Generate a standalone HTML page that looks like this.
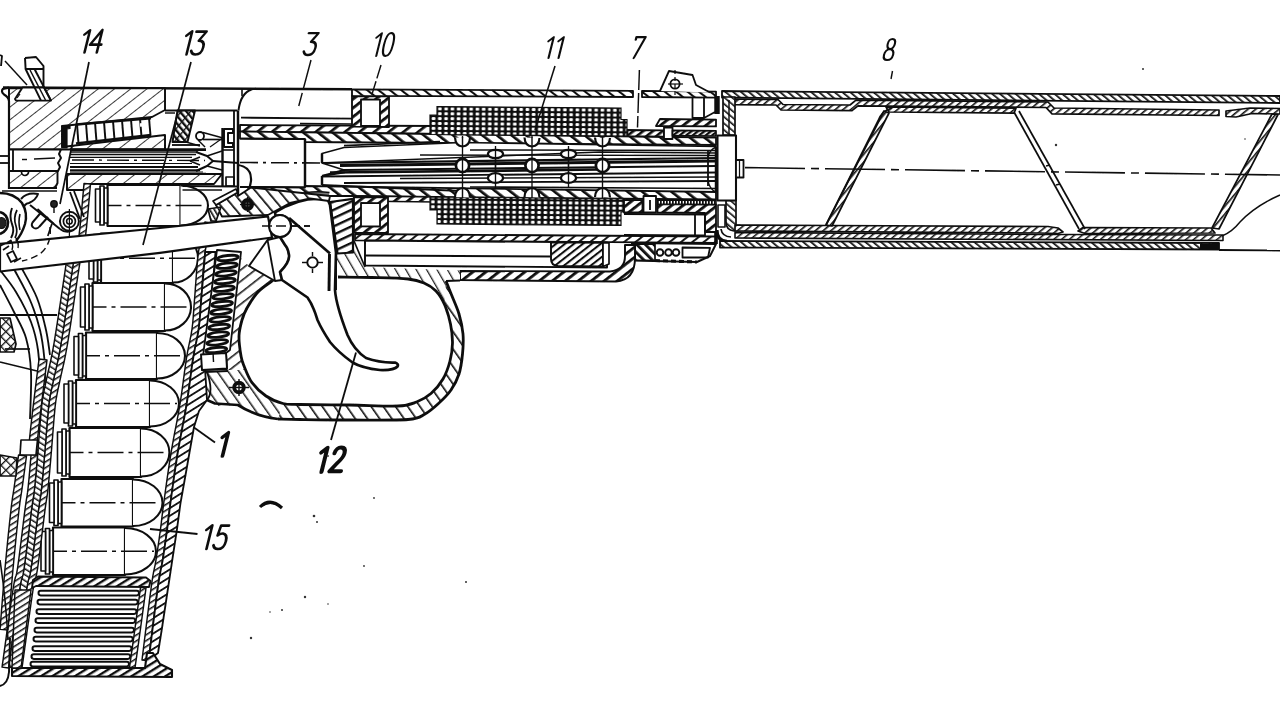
<!DOCTYPE html>
<html><head><meta charset="utf-8"><title>Pistol cutaway diagram</title>
<style>html,body{margin:0;padding:0;background:#fff;overflow:hidden}svg{display:block}</style></head>
<body>
<svg width="1280" height="711" viewBox="0 0 1280 711" font-family="Liberation Sans, sans-serif">
<rect width="1280" height="711" fill="#fff"/>
<defs>
<pattern id="h0" patternUnits="userSpaceOnUse" width="5" height="5" patternTransform="rotate(-50)"><rect x="0" y="0" width="1.73" height="5" fill="#111"/></pattern>
<pattern id="h1" patternUnits="userSpaceOnUse" width="5" height="5" patternTransform="rotate(50)"><rect x="0" y="0" width="1.62" height="5" fill="#111"/></pattern>
<pattern id="h2" patternUnits="userSpaceOnUse" width="5" height="5" patternTransform="rotate(-50)"><rect x="0" y="0" width="1.62" height="5" fill="#111"/></pattern>
<pattern id="h3" patternUnits="userSpaceOnUse" width="5" height="5" patternTransform="rotate(50)"><rect x="0" y="0" width="1.51" height="5" fill="#111"/></pattern>
<pattern id="h4" patternUnits="userSpaceOnUse" width="2" height="2" patternTransform="rotate(0)"><rect x="0" y="0" width="2.16" height="2" fill="#111"/></pattern>
<pattern id="h5" patternUnits="userSpaceOnUse" width="5" height="5" patternTransform="rotate(40)"><rect x="0" y="0" width="1.62" height="5" fill="#111"/></pattern>
<pattern id="h6" patternUnits="userSpaceOnUse" width="10" height="10" patternTransform="rotate(52)"><rect x="0" y="0" width="0.97" height="10" fill="#333"/></pattern>
<pattern id="h7" patternUnits="userSpaceOnUse" width="5" height="5" patternTransform="rotate(-40)"><rect x="0" y="0" width="2.38" height="5" fill="#111"/></pattern>
<pattern id="h8" patternUnits="userSpaceOnUse" width="7" height="7" patternTransform="rotate(40)"><rect x="0" y="0" width="1.3" height="7" fill="#111"/></pattern>
<pattern id="h9" patternUnits="userSpaceOnUse" width="9" height="9" patternTransform="rotate(52)"><rect x="0" y="0" width="2.7" height="9" fill="#111"/></pattern>
<pattern id="h10" patternUnits="userSpaceOnUse" width="9" height="9" patternTransform="rotate(-52)"><rect x="0" y="0" width="2.7" height="9" fill="#111"/></pattern>
<pattern id="h11" patternUnits="userSpaceOnUse" width="8" height="8" patternTransform="rotate(52)"><rect x="0" y="0" width="2.81" height="8" fill="#111"/></pattern>
<pattern id="grid" patternUnits="userSpaceOnUse" width="6.25" height="4.9" patternTransform="rotate(0.45)"><rect width="6.25" height="4.9" fill="#111"/><rect x="1.4" y="1.1" width="3.7" height="2.8" rx="1" fill="#fff"/></pattern>
<pattern id="h12" patternUnits="userSpaceOnUse" width="7" height="7" patternTransform="rotate(52)"><rect x="0" y="0" width="2.81" height="7" fill="#111"/></pattern>
<pattern id="h13" patternUnits="userSpaceOnUse" width="7" height="7" patternTransform="rotate(-52)"><rect x="0" y="0" width="2.05" height="7" fill="#111"/></pattern>
<pattern id="h14" patternUnits="userSpaceOnUse" width="7" height="7" patternTransform="rotate(52)"><rect x="0" y="0" width="1.94" height="7" fill="#111"/></pattern>
<pattern id="h15" patternUnits="userSpaceOnUse" width="6" height="6" patternTransform="rotate(52)"><rect x="0" y="0" width="2.59" height="6" fill="#111"/></pattern>
<pattern id="h16" patternUnits="userSpaceOnUse" width="4" height="4" patternTransform="rotate(52)"><rect x="0" y="0" width="2.38" height="4" fill="#111"/></pattern>
<pattern id="h17" patternUnits="userSpaceOnUse" width="3" height="3" patternTransform="rotate(0)"><rect x="0" y="0" width="1.73" height="3" fill="#111"/></pattern>
<pattern id="h18" patternUnits="userSpaceOnUse" width="6" height="6" patternTransform="rotate(-45)"><rect x="0" y="0" width="2.81" height="6" fill="#111"/></pattern>
<pattern id="h19" patternUnits="userSpaceOnUse" width="5.5" height="5.5" patternTransform="rotate(52)"><rect x="0" y="0" width="2.05" height="5.5" fill="#111"/></pattern>
<pattern id="h20" patternUnits="userSpaceOnUse" width="9" height="9" patternTransform="rotate(-30)"><rect x="0" y="0" width="1.3" height="9" fill="#222"/></pattern>
<pattern id="h21" patternUnits="userSpaceOnUse" width="10" height="10" patternTransform="rotate(-35)"><rect x="0" y="0" width="1.62" height="10" fill="#111"/></pattern>
<pattern id="h22" patternUnits="userSpaceOnUse" width="9" height="9" patternTransform="rotate(-35)"><rect x="0" y="0" width="1.51" height="9" fill="#222"/></pattern>
<pattern id="h23" patternUnits="userSpaceOnUse" width="9" height="9" patternTransform="rotate(52)"><rect x="0" y="0" width="1.62" height="9" fill="#222"/></pattern>
<pattern id="h24" patternUnits="userSpaceOnUse" width="7.5" height="7.5" patternTransform="rotate(65)"><rect x="0" y="0" width="2.38" height="7.5" fill="#111"/></pattern>
<pattern id="h25" patternUnits="userSpaceOnUse" width="5" height="5" patternTransform="rotate(58)"><rect x="0" y="0" width="1.51" height="5" fill="#111"/></pattern>
<pattern id="h26" patternUnits="userSpaceOnUse" width="5" height="5" patternTransform="rotate(-58)"><rect x="0" y="0" width="1.51" height="5" fill="#111"/></pattern>
<pattern id="h27" patternUnits="userSpaceOnUse" width="6.5" height="6.5" patternTransform="rotate(58)"><rect x="0" y="0" width="1.84" height="6.5" fill="#111"/></pattern>
<pattern id="h28" patternUnits="userSpaceOnUse" width="6" height="6" patternTransform="rotate(58)"><rect x="0" y="0" width="2.38" height="6" fill="#111"/></pattern>
<pattern id="h29" patternUnits="userSpaceOnUse" width="7" height="7" patternTransform="rotate(45)"><rect x="0" y="0" width="1.3" height="7" fill="#111"/></pattern>
<pattern id="h30" patternUnits="userSpaceOnUse" width="7" height="7" patternTransform="rotate(-45)"><rect x="0" y="0" width="1.3" height="7" fill="#111"/></pattern>
<pattern id="h31" patternUnits="userSpaceOnUse" width="9" height="9" patternTransform="rotate(-40)"><rect x="0" y="0" width="1.73" height="9" fill="#111"/></pattern>
<pattern id="h32" patternUnits="userSpaceOnUse" width="4" height="4" patternTransform="rotate(-30)"><rect x="0" y="0" width="1.62" height="4" fill="#111"/></pattern>
<filter id="soft" x="0" y="0" width="1280" height="711" filterUnits="userSpaceOnUse"><feGaussianBlur stdDeviation="0.45"/></filter>
</defs>
<g filter="url(#soft)">
<polygon points="722,91 1280,96 1280,103 722,97.5" fill="#fff" stroke="none"/>
<polygon points="722,91 1280,96 1280,103 722,97.5" fill="url(#h0)" stroke="#111" stroke-width="1.83" stroke-linejoin="round"/>
<polygon points="731,99 778,99.5 783,104.5 850,105 856,100.2 1048,102 1054,108 1219,110 1219,115.5 1052,113.8 1046,107.5 858,105.8 852,110.6 781,110 776,105 731,104.6" fill="#fff" stroke="none"/>
<polygon points="731,99 778,99.5 783,104.5 850,105 856,100.2 1048,102 1054,108 1219,110 1219,115.5 1052,113.8 1046,107.5 858,105.8 852,110.6 781,110 776,105 731,104.6" fill="url(#h1)" stroke="#111" stroke-width="1.71" stroke-linejoin="round"/>
<polygon points="886,107 1016,108.2 1014,113.2 889,112" fill="#fff" stroke="none"/>
<polygon points="886,107 1016,108.2 1014,113.2 889,112" fill="url(#h1)" stroke="#111" stroke-width="1.71" stroke-linejoin="round"/>
<polygon points="1226,111 1250,108 1280,108.5 1280,114 1252,113.5 1236,117 1226,116.5" fill="#fff" stroke="none"/>
<polygon points="1226,111 1250,108 1280,108.5 1280,114 1252,113.5 1236,117 1226,116.5" fill="url(#h1)" stroke="#111" stroke-width="1.71" stroke-linejoin="round"/>
<polygon points="723,97 735,97 735,135 729,135 723,135" fill="#fff" stroke="none"/>
<polygon points="723,97 735,97 735,135 729,135 723,135" fill="url(#h2)" stroke="#111" stroke-width="1.71" stroke-linejoin="round"/>
<line x1="729" y1="100" x2="729" y2="135" stroke="#111" stroke-width="1.46" stroke-linecap="butt"/>
<path d="M726,200.5 L736,200.5 L736,225 L740,225.3 L740,231 L734,231 Q726,230 726,222 Z" fill="#fff" stroke="none"/>
<path d="M726,200.5 L736,200.5 L736,225 L740,225.3 L740,231 L734,231 Q726,230 726,222 Z" fill="url(#h2)" stroke="#111" stroke-width="1.71" stroke-linejoin="round"/>
<polygon points="718,205 725,205 725,227 718,227" fill="#fff" stroke="#111" stroke-width="1.59" stroke-linejoin="round"/>
<path d="M717,230 Q717,241 727,241.3" fill="none" stroke="#111" stroke-width="3.17" stroke-linejoin="round" stroke-linecap="butt"/>
<path d="M721,229 Q722,236.5 731,237" fill="none" stroke="#111" stroke-width="1.71" stroke-linejoin="round" stroke-linecap="butt"/>
<polygon points="735,225 826,225.5 1048,226.5 1058,228 1063,232 1058,233.5 1040,233 735,231" fill="#fff" stroke="none"/>
<polygon points="735,225 826,225.5 1048,226.5 1058,228 1063,232 1058,233.5 1040,233 735,231" fill="url(#h1)" stroke="#111" stroke-width="1.71" stroke-linejoin="round"/>
<polygon points="1083,227.5 1211,228 1215,233 1085,233.5 1078,231" fill="#fff" stroke="none"/>
<polygon points="1083,227.5 1211,228 1215,233 1085,233.5 1078,231" fill="url(#h1)" stroke="#111" stroke-width="1.71" stroke-linejoin="round"/>
<polygon points="735,232.5 1040,234.5 1060,234.5 1223,235 1223,240.5 735,238" fill="#fff" stroke="none"/>
<polygon points="735,232.5 1040,234.5 1060,234.5 1223,235 1223,240.5 735,238" fill="url(#h3)" stroke="#111" stroke-width="1.59" stroke-linejoin="round"/>
<polygon points="720,241 1219,243 1219,249.5 720,247.5" fill="#fff" stroke="none"/>
<polygon points="720,241 1219,243 1219,249.5 720,247.5" fill="url(#h0)" stroke="#111" stroke-width="1.83" stroke-linejoin="round"/>
<line x1="1219" y1="250" x2="1280" y2="250.5" stroke="#111" stroke-width="1.83" stroke-linecap="butt"/>
<path d="M1222,236 Q1232,232 1240,222 Q1255,206 1280,195" fill="none" stroke="#111" stroke-width="1.46" stroke-linejoin="round" stroke-linecap="butt"/>
<polygon points="1200,244 1219,244 1219,249 1200,249" fill="#fff" stroke="none"/>
<polygon points="1200,244 1219,244 1219,249 1200,249" fill="url(#h4)" stroke="#111" stroke-width="0.0" stroke-linejoin="round"/>
<polygon points="884,111 889,113 832,226 826,225" fill="#fff" stroke="none"/>
<polygon points="884,111 889,113 832,226 826,225" fill="url(#h5)" stroke="#111" stroke-width="1.71" stroke-linejoin="round"/>
<path d="M826,225 L878,121 Q882,110 892,108" fill="none" stroke="#111" stroke-width="1.71" stroke-linejoin="round" stroke-linecap="butt"/>
<line x1="1014" y1="112" x2="1079" y2="229" stroke="#111" stroke-width="1.71" stroke-linecap="butt"/>
<line x1="1019" y1="111" x2="1085" y2="229" stroke="#111" stroke-width="1.71" stroke-linecap="butt"/>
<line x1="1046" y1="166" x2="1050" y2="165" stroke="#111" stroke-width="1.46" stroke-linecap="butt"/>
<line x1="1056" y1="185" x2="1060" y2="184" stroke="#111" stroke-width="1.46" stroke-linecap="butt"/>
<polygon points="1272,114 1278,114.5 1219,229 1212,228" fill="#fff" stroke="none"/>
<polygon points="1272,114 1278,114.5 1219,229 1212,228" fill="url(#h5)" stroke="#111" stroke-width="1.71" stroke-linejoin="round"/>
<line x1="745" y1="167.6" x2="1280" y2="175" stroke="#111" stroke-width="1.59" stroke-linecap="butt" stroke-dasharray="60 6 8 6"/>
<line x1="3" y1="87.5" x2="352" y2="89.3" stroke="#111" stroke-width="2.44" stroke-linecap="butt"/>
<polygon points="9,88 165,88.3 165,110 152,117 62,126 62,147 165,135 165,149.4 9,149.4" fill="#fff" stroke="none"/>
<polygon points="9,88 165,88.3 165,110 152,117 62,126 62,147 165,135 165,149.4 9,149.4" fill="url(#h6)" stroke="#111" stroke-width="1.95" stroke-linejoin="round"/>
<polygon points="22.5,87.5 15,99 16,100.6 51,100.6 44,87.5" fill="#fff" stroke="#111" stroke-width="1.95" stroke-linejoin="round"/>
<line x1="17" y1="98" x2="20" y2="94" stroke="#111" stroke-width="1.22" stroke-linecap="butt"/>
<polyline points="25,58 36,57 43.5,66 43.5,87.5" fill="none" stroke="#111" stroke-width="1.95" stroke-linejoin="round"/>
<polyline points="25,58 25.6,69 41,100.6" fill="none" stroke="#111" stroke-width="1.95" stroke-linejoin="round"/>
<line x1="25.6" y1="69" x2="43.5" y2="69" stroke="#111" stroke-width="1.95" stroke-linecap="butt"/>
<line x1="34.5" y1="69" x2="51" y2="100.6" stroke="#111" stroke-width="1.95" stroke-linecap="butt"/>
<line x1="30" y1="70" x2="45.5" y2="100" stroke="#111" stroke-width="1.46" stroke-linecap="butt"/>
<line x1="5" y1="61" x2="27" y2="85" stroke="#111" stroke-width="1.46" stroke-linecap="butt"/>
<path d="M0,55 L2,56 L1,66" fill="none" stroke="#111" stroke-width="1.83" stroke-linejoin="round" stroke-linecap="butt"/>
<path d="M9,189 L9,101 Q8.5,97 4,94.5 Q0.5,91.5 3,88.8 L9,87.6" fill="none" stroke="#111" stroke-width="2.2" stroke-linejoin="round" stroke-linecap="butt"/>
<polygon points="62,126 70,125.3 70,128.5 67,128.8 67,148 62,148" fill="#111" stroke="#111" stroke-width="1.22" stroke-linejoin="round"/>
<line x1="77.0" y1="124.0" x2="78.5" y2="144.0" stroke="#111" stroke-width="1.95" stroke-linecap="butt"/>
<line x1="86.0" y1="123.25" x2="87.5" y2="142.9375" stroke="#111" stroke-width="1.95" stroke-linecap="butt"/>
<line x1="95.0" y1="122.5" x2="96.5" y2="141.875" stroke="#111" stroke-width="1.95" stroke-linecap="butt"/>
<line x1="104.0" y1="121.75" x2="105.5" y2="140.8125" stroke="#111" stroke-width="1.95" stroke-linecap="butt"/>
<line x1="113.0" y1="121.0" x2="114.5" y2="139.75" stroke="#111" stroke-width="1.95" stroke-linecap="butt"/>
<line x1="122.0" y1="120.25" x2="123.5" y2="138.6875" stroke="#111" stroke-width="1.95" stroke-linecap="butt"/>
<line x1="131.0" y1="119.5" x2="132.5" y2="137.625" stroke="#111" stroke-width="1.95" stroke-linecap="butt"/>
<line x1="140.0" y1="118.75" x2="141.5" y2="136.5625" stroke="#111" stroke-width="1.95" stroke-linecap="butt"/>
<line x1="149.0" y1="118.0" x2="150.5" y2="135.5" stroke="#111" stroke-width="1.95" stroke-linecap="butt"/>
<line x1="76" y1="124.5" x2="151" y2="118.3" stroke="#111" stroke-width="2.44" stroke-linecap="butt"/>
<line x1="76" y1="143.5" x2="151" y2="135" stroke="#111" stroke-width="2.44" stroke-linecap="butt"/>
<line x1="140" y1="125" x2="148" y2="124.5" stroke="#fff" stroke-width="3.66" stroke-linecap="butt"/>
<line x1="165" y1="110.5" x2="237.5" y2="110.5" stroke="#111" stroke-width="1.95" stroke-linecap="butt"/>
<line x1="165" y1="113" x2="175" y2="113" stroke="#111" stroke-width="1.46" stroke-linecap="butt"/>
<polygon points="9,149.4 61,149.4 59,154 61,158 58,163 60,167 58,171 9,171" fill="#fff" stroke="#111" stroke-width="1.95" stroke-linejoin="round"/>
<line x1="13" y1="149.4" x2="13" y2="171" stroke="#111" stroke-width="1.83" stroke-linecap="butt"/>
<line x1="0" y1="156" x2="9" y2="156" stroke="#111" stroke-width="1.83" stroke-linecap="butt"/>
<line x1="0" y1="163" x2="9" y2="163" stroke="#111" stroke-width="1.83" stroke-linecap="butt"/>
<line x1="22" y1="159.5" x2="27" y2="159.5" stroke="#111" stroke-width="1.46" stroke-linecap="butt"/>
<line x1="34" y1="159" x2="55" y2="158" stroke="#111" stroke-width="1.46" stroke-linecap="butt"/>
<line x1="70" y1="149.6" x2="206" y2="149.6" stroke="#111" stroke-width="2.68" stroke-linecap="butt"/>
<line x1="70" y1="152" x2="198" y2="152" stroke="#111" stroke-width="1.46" stroke-linecap="butt"/>
<line x1="70" y1="154.5" x2="196" y2="154.5" stroke="#111" stroke-width="1.71" stroke-linecap="butt"/>
<line x1="70" y1="157.3" x2="192" y2="157.3" stroke="#111" stroke-width="1.22" stroke-linecap="butt"/>
<line x1="70" y1="163.5" x2="192" y2="163.5" stroke="#111" stroke-width="1.22" stroke-linecap="butt"/>
<line x1="70" y1="167" x2="198" y2="167" stroke="#111" stroke-width="1.95" stroke-linecap="butt"/>
<line x1="70" y1="170.2" x2="200" y2="170.2" stroke="#111" stroke-width="1.95" stroke-linecap="butt"/>
<line x1="70" y1="172" x2="203" y2="172" stroke="#111" stroke-width="1.22" stroke-linecap="butt"/>
<line x1="70" y1="174" x2="206" y2="174" stroke="#111" stroke-width="2.68" stroke-linecap="butt"/>
<line x1="72" y1="160" x2="205" y2="160.5" stroke="#111" stroke-width="1.46" stroke-linecap="butt" stroke-dasharray="22 5 3 5"/>
<path d="M196,152 L207,156 L213,161 L207,166 L196,171" fill="none" stroke="#111" stroke-width="1.95" stroke-linejoin="round" stroke-linecap="butt"/>
<path d="M190,161 L200,157 M190,161 L200,165" fill="none" stroke="#111" stroke-width="1.71" stroke-linejoin="round" stroke-linecap="butt"/>
<polygon points="9,171 57.5,171 57.5,183 55,188 9,188" fill="#fff" stroke="none"/>
<polygon points="9,171 57.5,171 57.5,183 55,188 9,188" fill="url(#h6)" stroke="#111" stroke-width="1.95" stroke-linejoin="round"/>
<path d="M21.5,172 A3.5,3.5 0 0 0 28.5,172" fill="#fff" stroke="#111" stroke-width="1.71" stroke-linejoin="round" stroke-linecap="butt"/>
<polygon points="67,174 222,174 214,184 85,184 85,190 67,190" fill="#fff" stroke="none"/>
<polygon points="67,174 222,174 214,184 85,184 85,190 67,190" fill="url(#h6)" stroke="#111" stroke-width="1.95" stroke-linejoin="round"/>
<line x1="9" y1="188" x2="57" y2="188" stroke="#111" stroke-width="1.95" stroke-linecap="butt"/>
<line x1="2" y1="191" x2="57" y2="191" stroke="#111" stroke-width="1.71" stroke-linecap="butt"/>
<polygon points="177.5,110.5 195,110.5 187.5,142 172.5,142" fill="#fff" stroke="none"/>
<polygon points="177.5,110.5 195,110.5 187.5,142 172.5,142" fill="url(#h7)" stroke="#111" stroke-width="1.95" stroke-linejoin="round"/>
<polygon points="177.5,110.5 195,110.5 187.5,142 172.5,142" fill="url(#h8)" stroke="none"/>
<line x1="172" y1="145" x2="200" y2="145" stroke="#111" stroke-width="1.83" stroke-linecap="butt"/>
<line x1="186" y1="142" x2="200" y2="146" stroke="#111" stroke-width="1.59" stroke-linecap="butt"/>
<circle cx="200" cy="136" r="4" fill="#fff" stroke="#111" stroke-width="1.83"/>
<line x1="203" y1="132.5" x2="223" y2="138" stroke="#111" stroke-width="1.71" stroke-linecap="butt"/>
<line x1="203" y1="139.5" x2="223" y2="139.5" stroke="#111" stroke-width="1.71" stroke-linecap="butt"/>
<line x1="198" y1="140" x2="205" y2="147" stroke="#111" stroke-width="1.46" stroke-linecap="butt"/>
<line x1="210" y1="147" x2="222" y2="138.5" stroke="#111" stroke-width="1.1" stroke-linecap="butt"/>
<path d="M224,129 L233,129 L233,133 L228,133 L228,143 L233,143 L233,147 L224,147 Z" fill="none" stroke="#111" stroke-width="1.95" stroke-linejoin="round" stroke-linecap="butt"/>
<line x1="222.5" y1="128" x2="222.5" y2="186" stroke="#111" stroke-width="2.44" stroke-linecap="butt"/>
<line x1="234" y1="110.5" x2="234" y2="186" stroke="#111" stroke-width="1.83" stroke-linecap="butt"/>
<line x1="238" y1="110.5" x2="238" y2="196" stroke="#111" stroke-width="2.44" stroke-linecap="butt"/>
<polygon points="226,177 234,177 234,186 226,186" fill="none" stroke="#111" stroke-width="1.71" stroke-linejoin="round"/>
<line x1="222.5" y1="150" x2="234" y2="150" stroke="#111" stroke-width="1.59" stroke-linecap="butt"/>
<line x1="213" y1="161" x2="238" y2="163" stroke="#111" stroke-width="1.83" stroke-linecap="butt"/>
<line x1="207" y1="156" x2="222" y2="151" stroke="#111" stroke-width="1.59" stroke-linecap="butt"/>
<line x1="207" y1="166" x2="222" y2="170" stroke="#111" stroke-width="1.59" stroke-linecap="butt"/>
<line x1="242" y1="88.5" x2="242" y2="96" stroke="#111" stroke-width="1.59" stroke-linecap="butt"/>
<path d="M256,88.6 Q241,90 238.5,110.5" fill="none" stroke="#111" stroke-width="1.95" stroke-linejoin="round" stroke-linecap="butt"/>
<line x1="241" y1="117.6" x2="352" y2="118.6" stroke="#111" stroke-width="1.95" stroke-linecap="butt"/>
<line x1="300" y1="123.6" x2="352" y2="124" stroke="#111" stroke-width="1.59" stroke-linecap="butt"/>
<path d="M238,165 Q252,167 251,181 Q250,193 238,196" fill="none" stroke="#111" stroke-width="2.2" stroke-linejoin="round" stroke-linecap="butt"/>
<polygon points="240,125 436,126 436,134 240,131.5" fill="#fff" stroke="none"/>
<polygon points="240,125 436,126 436,134 240,131.5" fill="url(#h9)" stroke="#111" stroke-width="1.83" stroke-linejoin="round"/>
<polygon points="240,131.5 436,134 716,137.5 716,145 305,142 305,139 240,138.5" fill="#fff" stroke="none"/>
<polygon points="240,131.5 436,134 716,137.5 716,145 305,142 305,139 240,138.5" fill="url(#h10)" stroke="#111" stroke-width="1.83" stroke-linejoin="round"/>
<line x1="240" y1="138.6" x2="305" y2="139" stroke="#111" stroke-width="1.95" stroke-linecap="butt"/>
<line x1="305" y1="139" x2="305" y2="187" stroke="#111" stroke-width="2.44" stroke-linecap="butt"/>
<line x1="240" y1="187" x2="305" y2="187.5" stroke="#111" stroke-width="1.95" stroke-linecap="butt"/>
<line x1="240" y1="162.5" x2="320" y2="163" stroke="#111" stroke-width="1.59" stroke-linecap="butt" stroke-dasharray="18 5 3 5"/>
<polygon points="250,187 305,187.5 305,186 716,192 716,199.5 436,197 354,196 330,196 300,198" fill="#fff" stroke="none"/>
<polygon points="250,187 305,187.5 305,186 716,192 716,199.5 436,197 354,196 330,196 300,198" fill="url(#h10)" stroke="#111" stroke-width="1.83" stroke-linejoin="round"/>
<polygon points="354,196 436,197 436,202 354,201" fill="#fff" stroke="none"/>
<polygon points="354,196 436,197 436,202 354,201" fill="url(#h11)" stroke="#111" stroke-width="1.71" stroke-linejoin="round"/>
<polygon points="437,106.5 621,108 621,119.5 627,119.5 627,136.2 430,134.5 430,115 437,115" fill="url(#grid)" stroke="#111" stroke-width="1.2"/>
<polygon points="430,197 627,199 627,212 621,212 621,225.5 437,224 437,210 430,210" fill="url(#grid)" stroke="#111" stroke-width="1.2"/>
<polygon points="352,96 389,96.3 389,127 352,126.6" fill="#fff" stroke="none"/>
<polygon points="352,96 389,96.3 389,127 352,126.6" fill="url(#h12)" stroke="#111" stroke-width="1.83" stroke-linejoin="round"/>
<polygon points="361,99.5 380,99.7 380,126 361,125.8" fill="#fff" stroke="#111" stroke-width="1.83" stroke-linejoin="round"/>
<polygon points="354,197 388,197.4 388,233 354,232.6" fill="#fff" stroke="none"/>
<polygon points="354,197 388,197.4 388,233 354,232.6" fill="url(#h12)" stroke="#111" stroke-width="1.83" stroke-linejoin="round"/>
<polygon points="361,203 380,203.2 380,226.5 361,226.3" fill="#fff" stroke="#111" stroke-width="1.83" stroke-linejoin="round"/>
<polygon points="352,89.3 633,90.8 633,97 352,95.8" fill="#fff" stroke="none"/>
<polygon points="352,89.3 633,90.8 633,97 352,95.8" fill="url(#h13)" stroke="#111" stroke-width="1.83" stroke-linejoin="round"/>
<polygon points="642,90.9 716,91.6 716,97.6 642,97" fill="#fff" stroke="none"/>
<polygon points="642,90.9 716,91.6 716,97.6 642,97" fill="url(#h13)" stroke="#111" stroke-width="1.83" stroke-linejoin="round"/>
<polygon points="355,234 716,236.5 716,242.8 355,240.3" fill="#fff" stroke="none"/>
<polygon points="355,234 716,236.5 716,242.8 355,240.3" fill="url(#h14)" stroke="#111" stroke-width="1.83" stroke-linejoin="round"/>
<polygon points="322,153.5 344,147.5 462,142.5 716,146.5 716,153 600,152 322,163" fill="#fff" stroke="#111" stroke-width="1.59" stroke-linejoin="round"/>
<line x1="344" y1="145.6" x2="440" y2="141.5" stroke="#111" stroke-width="1.71" stroke-linecap="butt"/>
<line x1="322" y1="153.5" x2="322" y2="163" stroke="#111" stroke-width="2.44" stroke-linecap="butt"/>
<line x1="322" y1="163" x2="716" y2="158" stroke="#111" stroke-width="2.2" stroke-linecap="butt"/>
<line x1="340" y1="165.5" x2="716" y2="161" stroke="#111" stroke-width="2.93" stroke-linecap="butt"/>
<line x1="344" y1="170" x2="716" y2="166" stroke="#111" stroke-width="1.83" stroke-linecap="butt"/>
<line x1="330" y1="172.5" x2="600" y2="169.5" stroke="#111" stroke-width="2.68" stroke-linecap="butt"/>
<line x1="322" y1="176" x2="345" y2="172.3" stroke="#111" stroke-width="1.83" stroke-linecap="butt"/>
<line x1="322" y1="176" x2="322" y2="185" stroke="#111" stroke-width="2.44" stroke-linecap="butt"/>
<line x1="322" y1="176.5" x2="716" y2="172.5" stroke="#111" stroke-width="1.95" stroke-linecap="butt"/>
<line x1="322" y1="185" x2="344" y2="186" stroke="#111" stroke-width="2.2" stroke-linecap="butt"/>
<line x1="344" y1="186" x2="462" y2="191" stroke="#111" stroke-width="2.2" stroke-linecap="butt"/>
<line x1="344" y1="183" x2="716" y2="181" stroke="#111" stroke-width="1.95" stroke-linecap="butt"/>
<line x1="400" y1="178.5" x2="716" y2="177" stroke="#111" stroke-width="1.46" stroke-linecap="butt"/>
<line x1="420" y1="155" x2="716" y2="155.5" stroke="#111" stroke-width="1.46" stroke-linecap="butt"/>
<line x1="470" y1="150" x2="716" y2="150.5" stroke="#111" stroke-width="1.46" stroke-linecap="butt"/>
<line x1="470" y1="187" x2="716" y2="188.5" stroke="#111" stroke-width="1.71" stroke-linecap="butt"/>
<path d="M322,163 L344,170 L322,176" fill="none" stroke="#111" stroke-width="1.83" stroke-linejoin="round" stroke-linecap="butt"/>
<line x1="462.5" y1="136" x2="462.5" y2="198" stroke="#111" stroke-width="1.34" stroke-linecap="butt"/>
<path d="M455.0,137.5 Q455.5,146 462.5,146.5 Q469.5,146 470.0,138" fill="#fff" stroke="#111" stroke-width="2.2" stroke-linejoin="round" stroke-linecap="butt"/>
<path d="M455.0,197 Q455.5,188.5 462.5,188 Q469.5,188.5 470.0,197.5" fill="#fff" stroke="#111" stroke-width="2.2" stroke-linejoin="round" stroke-linecap="butt"/>
<line x1="462.5" y1="137" x2="462.5" y2="146" stroke="#111" stroke-width="1.46" stroke-linecap="butt"/>
<line x1="462.5" y1="188" x2="462.5" y2="198" stroke="#111" stroke-width="1.46" stroke-linecap="butt"/>
<circle cx="462.5" cy="165.5" r="6.6" fill="#fff" stroke="#111" stroke-width="2.68"/>
<line x1="462.5" y1="160" x2="462.5" y2="171" stroke="#111" stroke-width="1.34" stroke-linecap="butt"/>
<line x1="532" y1="136" x2="532" y2="198" stroke="#111" stroke-width="1.34" stroke-linecap="butt"/>
<path d="M524.5,137.5 Q525,146 532,146.5 Q539,146 539.5,138" fill="#fff" stroke="#111" stroke-width="2.2" stroke-linejoin="round" stroke-linecap="butt"/>
<path d="M524.5,197 Q525,188.5 532,188 Q539,188.5 539.5,197.5" fill="#fff" stroke="#111" stroke-width="2.2" stroke-linejoin="round" stroke-linecap="butt"/>
<line x1="532" y1="137" x2="532" y2="146" stroke="#111" stroke-width="1.46" stroke-linecap="butt"/>
<line x1="532" y1="188" x2="532" y2="198" stroke="#111" stroke-width="1.46" stroke-linecap="butt"/>
<circle cx="532" cy="165.5" r="6.6" fill="#fff" stroke="#111" stroke-width="2.68"/>
<line x1="532" y1="160" x2="532" y2="171" stroke="#111" stroke-width="1.34" stroke-linecap="butt"/>
<line x1="602.5" y1="136" x2="602.5" y2="198" stroke="#111" stroke-width="1.34" stroke-linecap="butt"/>
<path d="M595.0,137.5 Q595.5,146 602.5,146.5 Q609.5,146 610.0,138" fill="#fff" stroke="#111" stroke-width="2.2" stroke-linejoin="round" stroke-linecap="butt"/>
<path d="M595.0,197 Q595.5,188.5 602.5,188 Q609.5,188.5 610.0,197.5" fill="#fff" stroke="#111" stroke-width="2.2" stroke-linejoin="round" stroke-linecap="butt"/>
<line x1="602.5" y1="137" x2="602.5" y2="146" stroke="#111" stroke-width="1.46" stroke-linecap="butt"/>
<line x1="602.5" y1="188" x2="602.5" y2="198" stroke="#111" stroke-width="1.46" stroke-linecap="butt"/>
<circle cx="602.5" cy="165.5" r="6.6" fill="#fff" stroke="#111" stroke-width="2.68"/>
<line x1="602.5" y1="160" x2="602.5" y2="171" stroke="#111" stroke-width="1.34" stroke-linecap="butt"/>
<line x1="495.5" y1="146" x2="495.5" y2="188" stroke="#111" stroke-width="1.34" stroke-linecap="butt"/>
<ellipse cx="495.5" cy="154" rx="7.6" ry="4.2" fill="#fff" stroke="#111" stroke-width="2.32"/>
<ellipse cx="495.5" cy="178" rx="7.6" ry="4.8" fill="#fff" stroke="#111" stroke-width="2.32"/>
<line x1="495.5" y1="150" x2="495.5" y2="182" stroke="#111" stroke-width="1.34" stroke-linecap="butt"/>
<line x1="568.5" y1="146" x2="568.5" y2="188" stroke="#111" stroke-width="1.34" stroke-linecap="butt"/>
<ellipse cx="568.5" cy="154" rx="7.6" ry="4.2" fill="#fff" stroke="#111" stroke-width="2.32"/>
<ellipse cx="568.5" cy="178" rx="7.6" ry="4.8" fill="#fff" stroke="#111" stroke-width="2.32"/>
<line x1="568.5" y1="150" x2="568.5" y2="182" stroke="#111" stroke-width="1.34" stroke-linecap="butt"/>
<polyline points="660,91 669,71 692.5,75 696,85 710,92.5" fill="#fff" stroke="#111" stroke-width="1.83" stroke-linejoin="round"/>
<circle cx="675" cy="84" r="4.6" fill="#fff" stroke="#111" stroke-width="1.83"/>
<line x1="668" y1="84" x2="683" y2="84" stroke="#111" stroke-width="1.22" stroke-linecap="butt"/>
<line x1="675" y1="70" x2="675" y2="98" stroke="#111" stroke-width="1.22" stroke-linecap="butt" stroke-dasharray="4 3"/>
<polygon points="656,126 660,119 716,119.6 716,126.4" fill="#fff" stroke="none"/>
<polygon points="656,126 660,119 716,119.6 716,126.4" fill="url(#h12)" stroke="#111" stroke-width="1.83" stroke-linejoin="round"/>
<polygon points="627.5,130 664,130.3 664,136.6 627.5,136.2" fill="#fff" stroke="none"/>
<polygon points="627.5,130 664,130.3 664,136.6 627.5,136.2" fill="url(#h15)" stroke="#111" stroke-width="1.83" stroke-linejoin="round"/>
<polygon points="664,127.5 672.5,127.5 672.5,139 664,139" fill="#fff" stroke="#111" stroke-width="1.83" stroke-linejoin="round"/>
<polygon points="672.5,130.4 716,130.8 716,136 672.5,135.6" fill="#fff" stroke="none"/>
<polygon points="672.5,130.4 716,130.8 716,136 672.5,135.6" fill="url(#h16)" stroke="#111" stroke-width="1.71" stroke-linejoin="round"/>
<polyline points="692.5,98 692.5,118 704,118 704,98" fill="none" stroke="#111" stroke-width="1.83" stroke-linejoin="round"/>
<line x1="704" y1="118" x2="715" y2="112" stroke="#111" stroke-width="1.71" stroke-linecap="butt"/>
<line x1="717" y1="96" x2="717" y2="114" stroke="#111" stroke-width="5.49" stroke-linecap="butt"/>
<polygon points="717.5,135.5 736,135.5 736,200.5 717.5,200.5" fill="#fff" stroke="#111" stroke-width="2.07" stroke-linejoin="round"/>
<polygon points="736,160 743.5,160 743.5,177.5 736,177.5" fill="#fff" stroke="#111" stroke-width="1.83" stroke-linejoin="round"/>
<line x1="739.5" y1="160" x2="739.5" y2="177.5" stroke="#111" stroke-width="1.22" stroke-linecap="butt"/>
<line x1="716" y1="147" x2="716" y2="192" stroke="#111" stroke-width="2.44" stroke-linecap="butt"/>
<line x1="708" y1="150" x2="708" y2="186" stroke="#111" stroke-width="1.83" stroke-linecap="butt"/>
<path d="M716,147 Q709,150 708,158 M716,192 Q709,189 708,180" fill="none" stroke="#111" stroke-width="1.46" stroke-linejoin="round" stroke-linecap="butt"/>
<polygon points="624,200 642.5,200.2 642.5,212.5 624,212.5" fill="#fff" stroke="none"/>
<polygon points="624,200 642.5,200.2 642.5,212.5 624,212.5" fill="url(#h12)" stroke="#111" stroke-width="1.83" stroke-linejoin="round"/>
<polygon points="643.5,196 656,196 656,212.5 643.5,212.5" fill="#fff" stroke="#111" stroke-width="1.83" stroke-linejoin="round"/>
<line x1="650" y1="200" x2="650" y2="210" stroke="#111" stroke-width="1.83" stroke-linecap="butt"/>
<polygon points="657.5,204 716,204.5 716,232 705,232 705,213 657.5,212.5" fill="#fff" stroke="none"/>
<polygon points="657.5,204 716,204.5 716,232 705,232 705,213 657.5,212.5" fill="url(#h12)" stroke="#111" stroke-width="1.83" stroke-linejoin="round"/>
<polygon points="657.5,200 716,200.5 716,204.5 657.5,204" fill="#fff" stroke="none"/>
<polygon points="657.5,200 716,200.5 716,204.5 657.5,204" fill="url(#h17)" stroke="#111" stroke-width="1.46" stroke-linejoin="round"/>
<polyline points="624,214 705,214.5 705,235.5 624,235" fill="none" stroke="#111" stroke-width="1.83" stroke-linejoin="round"/>
<line x1="695" y1="214.5" x2="695" y2="235.5" stroke="#111" stroke-width="1.83" stroke-linecap="butt"/>
<line x1="716" y1="232" x2="716" y2="244" stroke="#111" stroke-width="3.66" stroke-linecap="butt"/>
<polygon points="632,243 716,244 710,256 697,262 632,260.5" fill="#fff" stroke="#111" stroke-width="1.95" stroke-linejoin="round"/>
<polygon points="635,244 655,244.2 655,260.5 635,260.2" fill="#fff" stroke="none"/>
<polygon points="635,244 655,244.2 655,260.5 635,260.2" fill="url(#h18)" stroke="#111" stroke-width="1.71" stroke-linejoin="round"/>
<circle cx="660" cy="252.5" r="3.3" fill="#fff" stroke="#111" stroke-width="1.95"/>
<circle cx="668.5" cy="252.5" r="3.3" fill="#fff" stroke="#111" stroke-width="1.95"/>
<circle cx="676" cy="252.5" r="3.3" fill="#fff" stroke="#111" stroke-width="1.95"/>
<polygon points="682.5,247.5 710,247.8 708,257.5 682.5,257.5" fill="none" stroke="#111" stroke-width="1.83" stroke-linejoin="round"/>
<line x1="655" y1="260.5" x2="697" y2="262" stroke="#111" stroke-width="3.05" stroke-linecap="butt" stroke-dasharray="5 3"/>
<polygon points="365,240.5 607,242.5 607,267.5 365,265.5" fill="#fff" stroke="#111" stroke-width="1.95" stroke-linejoin="round"/>
<line x1="365" y1="255.5" x2="551" y2="256.5" stroke="#111" stroke-width="1.83" stroke-linecap="butt"/>
<path d="M551,242.3 L603,242.8 L603,266.5 L558,266 Q551,265.5 551,259 Z" fill="#fff" stroke="none"/>
<path d="M551,242.3 L603,242.8 L603,266.5 L558,266 Q551,265.5 551,259 Z" fill="url(#h19)" stroke="#111" stroke-width="1.95" stroke-linejoin="round"/>
<polygon points="603,243 609,243 609,264 603,266.5" fill="#fff" stroke="#111" stroke-width="1.71" stroke-linejoin="round"/>
<path d="M460,271 L610,271.5 Q625,270 625,256 L625,245 L635,245 L635,258 Q635,280 616,281.5 L460,280 Z" fill="#fff" stroke="none"/>
<path d="M460,271 L610,271.5 Q625,270 625,256 L625,245 L635,245 L635,258 Q635,280 616,281.5 L460,280 Z" fill="url(#h11)" stroke="#111" stroke-width="1.95" stroke-linejoin="round"/>
<polygon points="336,254 352.5,252.5 354,241 365,267 460,270.5 460,280.5 446,281 452,296 444.5,304.5 436,291 424,283 408,279 338,277" fill="#fff" stroke="none"/>
<polygon points="336,254 352.5,252.5 354,241 365,267 460,270.5 460,280.5 446,281 452,296 444.5,304.5 436,291 424,283 408,279 338,277" fill="url(#h20)" stroke="none"/>
<polyline points="354,241 365,267" fill="none" stroke="#111" stroke-width="1.71" stroke-linejoin="round"/>
<line x1="336" y1="254" x2="336" y2="290" stroke="#111" stroke-width="1.95" stroke-linecap="butt"/>
<polygon points="444.5,304.5 445.69,307.41 446.83,310.57 447.91,313.91 448.89,317.31 449.76,320.71 450.5,324.0 451.12,327.21 451.63,330.41 452.03,333.59 452.31,336.76 452.47,339.9 452.5,343.0 452.4,346.06 452.17,349.07 451.81,352.06 451.33,355.04 450.73,358.01 450.0,361.0 449.15,364.04 448.19,367.13 447.09,370.22 445.87,373.26 444.51,376.2 443.0,379.0 441.32,381.69 439.46,384.31 437.47,386.84 435.37,389.24 433.2,391.47 431.0,393.5 428.77,395.32 426.5,396.94 424.16,398.41 421.72,399.72 419.18,400.91 416.5,402.0 413.99,402.98 411.72,403.85 409.34,404.59 406.5,405.2 402.84,405.67 398.0,406.0 391.73,406.12 384.26,406.02 375.97,405.78 367.24,405.48 358.46,405.2 350.0,405.0 341.4,404.89 332.26,404.81 323.06,404.75 314.3,404.69 306.45,404.61 300.0,404.5 295.26,404.44 291.89,404.44 289.44,404.44 287.44,404.33 285.45,404.05 283.0,403.5 278,419 280.07,419.05 282.67,419.13 285.88,419.22 289.78,419.31 294.46,419.41 300.0,419.5 306.62,419.59 314.3,419.7 322.75,419.81 331.7,419.91 340.88,419.97 350.0,420.0 359.68,420.03 370.26,420.09 381.06,420.12 391.41,420.07 400.61,419.88 408.0,419.5 413.24,418.94 416.81,418.24 419.25,417.41 421.07,416.43 422.81,415.29 425.0,414.0 427.53,412.51 429.96,410.81 432.31,408.97 434.59,407.02 436.82,405.01 439.0,403.0 441.16,400.98 443.3,398.93 445.38,396.81 447.37,394.63 449.25,392.36 451.0,390.0 452.62,387.55 454.13,385.04 455.53,382.44 456.81,379.74 457.97,376.93 459.0,374.0 459.88,370.9 460.61,367.63 461.22,364.25 461.72,360.81 462.14,357.38 462.5,354.0 462.81,350.67 463.06,347.33 463.22,344.0 463.28,340.67 463.21,337.33 463.0,334.0 462.63,330.64 462.11,327.26 461.47,323.88 460.72,320.52 459.89,317.22 459.0,314.0 458.0,310.85 456.85,307.74 455.62,304.69 454.37,301.7 453.14,298.8 452.0,296.0 450.87,293.15 449.7,290.22 448.56,287.38 447.52,284.78 446.64,282.6 446.0,281.0" fill="#fff" stroke="none"/>
<polygon points="444.5,304.5 445.69,307.41 446.83,310.57 447.91,313.91 448.89,317.31 449.76,320.71 450.5,324.0 451.12,327.21 451.63,330.41 452.03,333.59 452.31,336.76 452.47,339.9 452.5,343.0 452.4,346.06 452.17,349.07 451.81,352.06 451.33,355.04 450.73,358.01 450.0,361.0 449.15,364.04 448.19,367.13 447.09,370.22 445.87,373.26 444.51,376.2 443.0,379.0 441.32,381.69 439.46,384.31 437.47,386.84 435.37,389.24 433.2,391.47 431.0,393.5 428.77,395.32 426.5,396.94 424.16,398.41 421.72,399.72 419.18,400.91 416.5,402.0 413.99,402.98 411.72,403.85 409.34,404.59 406.5,405.2 402.84,405.67 398.0,406.0 391.73,406.12 384.26,406.02 375.97,405.78 367.24,405.48 358.46,405.2 350.0,405.0 341.4,404.89 332.26,404.81 323.06,404.75 314.3,404.69 306.45,404.61 300.0,404.5 295.26,404.44 291.89,404.44 289.44,404.44 287.44,404.33 285.45,404.05 283.0,403.5 278,419 280.07,419.05 282.67,419.13 285.88,419.22 289.78,419.31 294.46,419.41 300.0,419.5 306.62,419.59 314.3,419.7 322.75,419.81 331.7,419.91 340.88,419.97 350.0,420.0 359.68,420.03 370.26,420.09 381.06,420.12 391.41,420.07 400.61,419.88 408.0,419.5 413.24,418.94 416.81,418.24 419.25,417.41 421.07,416.43 422.81,415.29 425.0,414.0 427.53,412.51 429.96,410.81 432.31,408.97 434.59,407.02 436.82,405.01 439.0,403.0 441.16,400.98 443.3,398.93 445.38,396.81 447.37,394.63 449.25,392.36 451.0,390.0 452.62,387.55 454.13,385.04 455.53,382.44 456.81,379.74 457.97,376.93 459.0,374.0 459.88,370.9 460.61,367.63 461.22,364.25 461.72,360.81 462.14,357.38 462.5,354.0 462.81,350.67 463.06,347.33 463.22,344.0 463.28,340.67 463.21,337.33 463.0,334.0 462.63,330.64 462.11,327.26 461.47,323.88 460.72,320.52 459.89,317.22 459.0,314.0 458.0,310.85 456.85,307.74 455.62,304.69 454.37,301.7 453.14,298.8 452.0,296.0 450.87,293.15 449.7,290.22 448.56,287.38 447.52,284.78 446.64,282.6 446.0,281.0" fill="url(#h21)" stroke="none"/>
<polygon points="226,370 246,370 244.0,366.0 244.97,368.42 246.07,371.16 247.31,374.09 248.7,377.06 250.26,379.94 252.0,382.6 253.95,385.09 256.11,387.52 258.44,389.87 260.89,392.09 263.42,394.15 266.0,396.0 268.66,397.67 271.44,399.18 274.31,400.53 277.22,401.7 280.13,402.69 283.0,403.5 278,419 255,415.5 238,405 215,406 207,400 205,372" fill="#fff" stroke="none"/>
<polygon points="226,370 246,370 244.0,366.0 244.97,368.42 246.07,371.16 247.31,374.09 248.7,377.06 250.26,379.94 252.0,382.6 253.95,385.09 256.11,387.52 258.44,389.87 260.89,392.09 263.42,394.15 266.0,396.0 268.66,397.67 271.44,399.18 274.31,400.53 277.22,401.7 280.13,402.69 283.0,403.5 278,419 255,415.5 238,405 215,406 207,400 205,372" fill="url(#h22)" stroke="none"/>
<polygon points="249,266 275,281 273,280.5 271.32,281.7 268.96,283.31 266.19,285.25 263.26,287.41 260.44,289.69 258.0,292.0 255.87,294.45 253.81,297.15 251.88,299.97 250.07,302.8 248.44,305.51 247.0,308.0 245.8,310.19 244.81,312.15 244.0,314.0 243.3,315.85 242.65,317.81 242.0,320.0 241.33,322.39 240.67,324.89 240.06,327.5 239.56,330.22 239.19,333.06 239.0,336.0 239.03,339.22 239.26,342.74 239.62,346.38 240.07,349.93 240.55,353.2 241.0,356.0 241.38,358.17 241.74,359.83 242.12,361.21 242.59,362.55 243.2,364.07 244.0,366.0 246,370 226,370 226,354 231,345 241,258" fill="#fff" stroke="none"/>
<polygon points="249,266 275,281 273,280.5 271.32,281.7 268.96,283.31 266.19,285.25 263.26,287.41 260.44,289.69 258.0,292.0 255.87,294.45 253.81,297.15 251.88,299.97 250.07,302.8 248.44,305.51 247.0,308.0 245.8,310.19 244.81,312.15 244.0,314.0 243.3,315.85 242.65,317.81 242.0,320.0 241.33,322.39 240.67,324.89 240.06,327.5 239.56,330.22 239.19,333.06 239.0,336.0 239.03,339.22 239.26,342.74 239.62,346.38 240.07,349.93 240.55,353.2 241.0,356.0 241.38,358.17 241.74,359.83 242.12,361.21 242.59,362.55 243.2,364.07 244.0,366.0 246,370 226,370 226,354 231,345 241,258" fill="url(#h23)" stroke="none"/>
<path d="M338.00,277.00 C343.67,277.08 360.33,277.17 372.00,277.50 C383.67,277.83 399.33,278.08 408.00,279.00 C416.67,279.92 419.33,281.00 424.00,283.00 C428.67,285.00 432.58,287.42 436.00,291.00 C439.42,294.58 442.08,299.00 444.50,304.50 C446.92,310.00 449.17,317.58 450.50,324.00 C451.83,330.42 452.58,336.83 452.50,343.00 C452.42,349.17 451.58,355.00 450.00,361.00 C448.42,367.00 446.17,373.58 443.00,379.00 C439.83,384.42 435.42,389.67 431.00,393.50 C426.58,397.33 422.00,399.92 416.50,402.00 C411.00,404.08 409.08,405.50 398.00,406.00 C386.92,406.50 366.33,405.25 350.00,405.00 C333.67,404.75 311.17,404.75 300.00,404.50 C288.83,404.25 288.67,404.92 283.00,403.50 C277.33,402.08 271.17,399.48 266.00,396.00 C260.83,392.52 255.67,387.60 252.00,382.60 C248.33,377.60 245.83,370.43 244.00,366.00 C242.17,361.57 241.83,361.00 241.00,356.00 C240.17,351.00 238.83,342.00 239.00,336.00 C239.17,330.00 240.67,324.67 242.00,320.00 C243.33,315.33 244.33,312.67 247.00,308.00 C249.67,303.33 253.67,296.58 258.00,292.00 C262.33,287.42 270.50,282.42 273.00,280.50 " fill="none" stroke="#111" stroke-width="2.81" stroke-linejoin="round" stroke-linecap="butt"/>
<path d="M446.00,281.00 C447.00,283.50 449.83,290.50 452.00,296.00 C454.17,301.50 457.17,307.67 459.00,314.00 C460.83,320.33 462.42,327.33 463.00,334.00 C463.58,340.67 463.17,347.33 462.50,354.00 C461.83,360.67 460.92,368.00 459.00,374.00 C457.08,380.00 454.33,385.17 451.00,390.00 C447.67,394.83 443.33,399.00 439.00,403.00 C434.67,407.00 430.17,411.25 425.00,414.00 C419.83,416.75 420.50,418.50 408.00,419.50 C395.50,420.50 368.00,420.00 350.00,420.00 C332.00,420.00 312.00,419.67 300.00,419.50 C288.00,419.33 281.67,419.08 278.00,419.00 " fill="none" stroke="#111" stroke-width="2.81" stroke-linejoin="round" stroke-linecap="butt"/>
<line x1="446" y1="281" x2="460" y2="280.5" stroke="#111" stroke-width="2.2" stroke-linecap="butt"/>
<path d="M278,419 Q255,416 238,405 L215,403.5 L207,400" fill="none" stroke="#111" stroke-width="2.68" stroke-linejoin="round" stroke-linecap="butt"/>
<path d="M207,400 Q214,392 207,372" fill="none" stroke="#111" stroke-width="1.83" stroke-linejoin="round" stroke-linecap="butt"/>
<line x1="205" y1="372" x2="228" y2="371" stroke="#111" stroke-width="1.83" stroke-linecap="butt"/>
<circle cx="239" cy="387.5" r="4.8" fill="#fff" stroke="#111" stroke-width="3.9"/>
<line x1="229" y1="387.5" x2="249" y2="387.5" stroke="#111" stroke-width="1.46" stroke-linecap="butt"/>
<line x1="239" y1="379" x2="239" y2="396" stroke="#111" stroke-width="1.46" stroke-linecap="butt"/>
<polygon points="330,202 353,198.8 353,252.5 337.5,253.5" fill="#fff" stroke="none"/>
<polygon points="330,202 353,198.8 353,252.5 337.5,253.5" fill="url(#h24)" stroke="#111" stroke-width="2.2" stroke-linejoin="round"/>
<path d="M267.5,240 L249,266 L275,281 L282,280 L280,272 Q290,262 289,255 Q288,248 285,245 L280,237 Z" fill="#fff" stroke="#111" stroke-width="1.95" stroke-linejoin="round" stroke-linecap="butt"/>
<path d="M280,237 L285,245 Q288,248 289,255 Q290,262 280,272 L282,280 L307.5,297.5 Q313,305 317.5,320 Q322,330 330,342 Q338,352 352.5,362.5 Q362,368 380,370 Q394,370.5 397.5,366.5 Q399,364 395,362.5 Q380,363 366,358 Q354,350 347.5,335 Q336,305 335,290 L336,252.5 L330,205 L327.5,199 Q300,196 275,212.5 Z" fill="#fff" stroke="#111" stroke-width="2.68" stroke-linejoin="round" stroke-linecap="butt"/>
<line x1="329.5" y1="254" x2="329" y2="291" stroke="#111" stroke-width="2.93" stroke-linecap="butt"/>
<path d="M273,209 Q298,191.5 329,195" fill="none" stroke="#777" stroke-width="5.12" stroke-linejoin="round" stroke-linecap="butt"/>
<path d="M271.5,206.5 Q297,188.5 329.5,192.5" fill="none" stroke="#111" stroke-width="1.59" stroke-linejoin="round" stroke-linecap="butt"/>
<line x1="289" y1="218" x2="330" y2="253.5" stroke="#111" stroke-width="2.81" stroke-linecap="butt"/>
<line x1="267.5" y1="240" x2="275" y2="281" stroke="#111" stroke-width="1.83" stroke-linecap="butt"/>
<circle cx="312.5" cy="262.5" r="5.2" fill="#fff" stroke="#111" stroke-width="1.95"/>
<line x1="302" y1="262.5" x2="307" y2="262.5" stroke="#111" stroke-width="1.46" stroke-linecap="butt"/>
<line x1="318" y1="262.5" x2="323" y2="262.5" stroke="#111" stroke-width="1.46" stroke-linecap="butt"/>
<line x1="312.5" y1="252" x2="312.5" y2="256" stroke="#111" stroke-width="1.46" stroke-linecap="butt"/>
<line x1="312.5" y1="269" x2="312.5" y2="273" stroke="#111" stroke-width="1.46" stroke-linecap="butt"/>
<circle cx="280" cy="226" r="11" fill="#fff" stroke="#111" stroke-width="2.07"/>
<line x1="262" y1="226" x2="310" y2="226" stroke="#111" stroke-width="1.34" stroke-linecap="butt" stroke-dasharray="10 4"/>
<polygon points="107.5,185 180.5,185 180.5,226 107.5,226" fill="#fff" stroke="#111" stroke-width="2.2" stroke-linejoin="round"/>
<path d="M180.5,185.5 A27.5,20.0 0 0 1 180.5,225.5" fill="#fff" stroke="#111" stroke-width="2.07" stroke-linejoin="round" stroke-linecap="butt"/>
<line x1="95.5" y1="205.5" x2="206" y2="205.5" stroke="#111" stroke-width="1.59" stroke-linecap="butt" stroke-dasharray="26 5 4 5"/>
<polygon points="104.0,188 107.5,188 107.5,223 104.0,223" fill="#fff" stroke="#111" stroke-width="1.71" stroke-linejoin="round"/>
<polygon points="100.0,186 104.0,186 104.0,225 100.0,225" fill="#fff" stroke="#111" stroke-width="1.71" stroke-linejoin="round"/>
<polygon points="95.5,189 100.0,189 100.0,222 95.5,222" fill="#fff" stroke="#111" stroke-width="1.59" stroke-linejoin="round"/>
<polygon points="101,233.5 173,233.5 173,283 101,283" fill="#fff" stroke="#111" stroke-width="2.2" stroke-linejoin="round"/>
<path d="M173,234.0 A25,24.25 0 0 1 173,282.5" fill="#fff" stroke="#111" stroke-width="2.07" stroke-linejoin="round" stroke-linecap="butt"/>
<line x1="89" y1="258.25" x2="196" y2="258.25" stroke="#111" stroke-width="1.59" stroke-linecap="butt" stroke-dasharray="26 5 4 5"/>
<polygon points="97.5,236.5 101,236.5 101,280 97.5,280" fill="#fff" stroke="#111" stroke-width="1.71" stroke-linejoin="round"/>
<polygon points="93.5,234.5 97.5,234.5 97.5,282 93.5,282" fill="#fff" stroke="#111" stroke-width="1.71" stroke-linejoin="round"/>
<polygon points="89,237.5 93.5,237.5 93.5,279 89,279" fill="#fff" stroke="#111" stroke-width="1.59" stroke-linejoin="round"/>
<polygon points="92.5,283 165,283 165,331 92.5,331" fill="#fff" stroke="#111" stroke-width="2.2" stroke-linejoin="round"/>
<path d="M165,283.5 A26,23.5 0 0 1 165,330.5" fill="#fff" stroke="#111" stroke-width="2.07" stroke-linejoin="round" stroke-linecap="butt"/>
<line x1="80.5" y1="307.0" x2="189" y2="307.0" stroke="#111" stroke-width="1.59" stroke-linecap="butt" stroke-dasharray="26 5 4 5"/>
<polygon points="89.0,286 92.5,286 92.5,328 89.0,328" fill="#fff" stroke="#111" stroke-width="1.71" stroke-linejoin="round"/>
<polygon points="85.0,284 89.0,284 89.0,330 85.0,330" fill="#fff" stroke="#111" stroke-width="1.71" stroke-linejoin="round"/>
<polygon points="80.5,287 85.0,287 85.0,327 80.5,327" fill="#fff" stroke="#111" stroke-width="1.59" stroke-linejoin="round"/>
<polygon points="86,332.5 157,332.5 157,379 86,379" fill="#fff" stroke="#111" stroke-width="2.2" stroke-linejoin="round"/>
<path d="M157,333.0 A28,22.75 0 0 1 157,378.5" fill="#fff" stroke="#111" stroke-width="2.07" stroke-linejoin="round" stroke-linecap="butt"/>
<line x1="74" y1="355.75" x2="183" y2="355.75" stroke="#111" stroke-width="1.59" stroke-linecap="butt" stroke-dasharray="26 5 4 5"/>
<polygon points="82.5,335.5 86,335.5 86,376 82.5,376" fill="#fff" stroke="#111" stroke-width="1.71" stroke-linejoin="round"/>
<polygon points="78.5,333.5 82.5,333.5 82.5,378 78.5,378" fill="#fff" stroke="#111" stroke-width="1.71" stroke-linejoin="round"/>
<polygon points="74,336.5 78.5,336.5 78.5,375 74,375" fill="#fff" stroke="#111" stroke-width="1.59" stroke-linejoin="round"/>
<polygon points="76,380 150,380 150,427 76,427" fill="#fff" stroke="#111" stroke-width="2.2" stroke-linejoin="round"/>
<path d="M150,380.5 A29,23.0 0 0 1 150,426.5" fill="#fff" stroke="#111" stroke-width="2.07" stroke-linejoin="round" stroke-linecap="butt"/>
<line x1="64" y1="403.5" x2="177" y2="403.5" stroke="#111" stroke-width="1.59" stroke-linecap="butt" stroke-dasharray="26 5 4 5"/>
<polygon points="72.5,383 76,383 76,424 72.5,424" fill="#fff" stroke="#111" stroke-width="1.71" stroke-linejoin="round"/>
<polygon points="68.5,381 72.5,381 72.5,426 68.5,426" fill="#fff" stroke="#111" stroke-width="1.71" stroke-linejoin="round"/>
<polygon points="64,384 68.5,384 68.5,423 64,423" fill="#fff" stroke="#111" stroke-width="1.59" stroke-linejoin="round"/>
<polygon points="69.5,428 141,428 141,477 69.5,477" fill="#fff" stroke="#111" stroke-width="2.2" stroke-linejoin="round"/>
<path d="M141,428.5 A28.400000000000006,24.0 0 0 1 141,476.5" fill="#fff" stroke="#111" stroke-width="2.07" stroke-linejoin="round" stroke-linecap="butt"/>
<line x1="57.5" y1="452.5" x2="167.4" y2="452.5" stroke="#111" stroke-width="1.59" stroke-linecap="butt" stroke-dasharray="26 5 4 5"/>
<polygon points="66.0,431 69.5,431 69.5,474 66.0,474" fill="#fff" stroke="#111" stroke-width="1.71" stroke-linejoin="round"/>
<polygon points="62.0,429 66.0,429 66.0,476 62.0,476" fill="#fff" stroke="#111" stroke-width="1.71" stroke-linejoin="round"/>
<polygon points="57.5,432 62.0,432 62.0,473 57.5,473" fill="#fff" stroke="#111" stroke-width="1.59" stroke-linejoin="round"/>
<polygon points="61.5,479 133,479 133,526.5 61.5,526.5" fill="#fff" stroke="#111" stroke-width="2.2" stroke-linejoin="round"/>
<path d="M133,479.5 A29.5,23.25 0 0 1 133,526.0" fill="#fff" stroke="#111" stroke-width="2.07" stroke-linejoin="round" stroke-linecap="butt"/>
<line x1="49.5" y1="502.75" x2="160.5" y2="502.75" stroke="#111" stroke-width="1.59" stroke-linecap="butt" stroke-dasharray="26 5 4 5"/>
<polygon points="58.0,482 61.5,482 61.5,523.5 58.0,523.5" fill="#fff" stroke="#111" stroke-width="1.71" stroke-linejoin="round"/>
<polygon points="54.0,480 58.0,480 58.0,525.5 54.0,525.5" fill="#fff" stroke="#111" stroke-width="1.71" stroke-linejoin="round"/>
<polygon points="49.5,483 54.0,483 54.0,522.5 49.5,522.5" fill="#fff" stroke="#111" stroke-width="1.59" stroke-linejoin="round"/>
<polygon points="53,527.5 125,527.5 125,575 53,575" fill="#fff" stroke="#111" stroke-width="2.2" stroke-linejoin="round"/>
<path d="M125,528.0 A31,23.25 0 0 1 125,574.5" fill="#fff" stroke="#111" stroke-width="2.07" stroke-linejoin="round" stroke-linecap="butt"/>
<line x1="41" y1="551.25" x2="154" y2="551.25" stroke="#111" stroke-width="1.59" stroke-linecap="butt" stroke-dasharray="26 5 4 5"/>
<polygon points="49.5,530.5 53,530.5 53,572 49.5,572" fill="#fff" stroke="#111" stroke-width="1.71" stroke-linejoin="round"/>
<polygon points="45.5,528.5 49.5,528.5 49.5,574 45.5,574" fill="#fff" stroke="#111" stroke-width="1.71" stroke-linejoin="round"/>
<polygon points="41,531.5 45.5,531.5 45.5,571 41,571" fill="#fff" stroke="#111" stroke-width="1.59" stroke-linejoin="round"/>
<polygon points="90.5,184.0 89.83,191.49 88.88,202.3 87.78,214.58 86.61,226.43 85.5,236.0 84.54,241.97 83.67,245.58 82.73,248.82 81.56,253.63 80.0,262.0 77.87,275.55 75.26,292.98 72.48,311.82 69.79,329.65 67.5,344.0 65.62,354.4 63.97,362.48 62.51,368.96 61.2,374.56 60.0,380.0 58.94,385.04 58.05,389.2 57.29,392.84 56.62,396.32 56.0,400.0 55.48,403.67 55.08,407.1 54.74,410.58 54.4,414.45 54.0,419.0 53.55,424.3 53.08,430.15 52.6,436.45 52.07,443.1 51.5,450.0 50.86,457.58 50.15,465.89 49.41,474.31 48.68,482.22 48.0,489.0 47.44,493.74 46.98,496.87 46.5,499.73 45.88,503.66 45.0,510.0 43.74,519.98 42.18,532.69 40.5,546.31 38.88,559.02 37.5,569.0 36.51,574.72 35.8,577.4 35.12,579.32 34.27,582.76 33.0,590.0 31.04,603.2 28.54,620.84 25.92,639.68 23.6,656.48 22,668 15.56,667.11 17.16,655.59 19.48,638.79 22.1,619.94 24.61,602.27 26.58,588.99 27.89,581.49 28.87,577.54 29.58,575.52 30.14,573.43 31.07,568.03 32.44,558.17 34.05,545.5 35.73,531.9 37.29,519.18 38.56,509.15 39.45,502.72 40.08,498.69 40.56,495.86 40.99,492.9 41.54,488.3 42.21,481.6 42.94,473.73 43.67,465.33 44.38,457.03 45.02,449.46 45.59,442.57 46.12,435.94 46.6,429.64 47.07,423.77 47.52,418.44 47.92,413.88 48.27,409.98 48.62,406.41 49.03,402.83 49.58,399.0 50.22,395.17 50.92,391.56 51.69,387.85 52.58,383.69 53.65,378.63 54.86,373.12 56.17,367.51 57.61,361.12 59.24,353.18 61.09,342.92 63.37,328.66 66.05,310.86 68.83,292.02 71.44,274.57 73.59,260.92 75.2,252.31 76.44,247.17 77.39,243.92 78.16,240.75 79.06,235.14 80.15,225.74 81.31,213.97 82.41,201.73 83.36,190.92 84.03,183.42" fill="#fff" stroke="none"/>
<polygon points="90.5,184.0 89.83,191.49 88.88,202.3 87.78,214.58 86.61,226.43 85.5,236.0 84.54,241.97 83.67,245.58 82.73,248.82 81.56,253.63 80.0,262.0 77.87,275.55 75.26,292.98 72.48,311.82 69.79,329.65 67.5,344.0 65.62,354.4 63.97,362.48 62.51,368.96 61.2,374.56 60.0,380.0 58.94,385.04 58.05,389.2 57.29,392.84 56.62,396.32 56.0,400.0 55.48,403.67 55.08,407.1 54.74,410.58 54.4,414.45 54.0,419.0 53.55,424.3 53.08,430.15 52.6,436.45 52.07,443.1 51.5,450.0 50.86,457.58 50.15,465.89 49.41,474.31 48.68,482.22 48.0,489.0 47.44,493.74 46.98,496.87 46.5,499.73 45.88,503.66 45.0,510.0 43.74,519.98 42.18,532.69 40.5,546.31 38.88,559.02 37.5,569.0 36.51,574.72 35.8,577.4 35.12,579.32 34.27,582.76 33.0,590.0 31.04,603.2 28.54,620.84 25.92,639.68 23.6,656.48 22,668 15.56,667.11 17.16,655.59 19.48,638.79 22.1,619.94 24.61,602.27 26.58,588.99 27.89,581.49 28.87,577.54 29.58,575.52 30.14,573.43 31.07,568.03 32.44,558.17 34.05,545.5 35.73,531.9 37.29,519.18 38.56,509.15 39.45,502.72 40.08,498.69 40.56,495.86 40.99,492.9 41.54,488.3 42.21,481.6 42.94,473.73 43.67,465.33 44.38,457.03 45.02,449.46 45.59,442.57 46.12,435.94 46.6,429.64 47.07,423.77 47.52,418.44 47.92,413.88 48.27,409.98 48.62,406.41 49.03,402.83 49.58,399.0 50.22,395.17 50.92,391.56 51.69,387.85 52.58,383.69 53.65,378.63 54.86,373.12 56.17,367.51 57.61,361.12 59.24,353.18 61.09,342.92 63.37,328.66 66.05,310.86 68.83,292.02 71.44,274.57 73.59,260.92 75.2,252.31 76.44,247.17 77.39,243.92 78.16,240.75 79.06,235.14 80.15,225.74 81.31,213.97 82.41,201.73 83.36,190.92 84.03,183.42" fill="url(#h25)" stroke="#111" stroke-width="1.46" stroke-linejoin="round"/>
<polygon points="73.5,262.0 71.72,273.89 69.16,291.1 66.24,310.58 63.38,329.23 61.0,344.0 59.12,354.4 57.47,362.48 56.01,368.96 54.7,374.56 53.5,380.0 52.44,385.04 51.55,389.2 50.79,392.84 50.12,396.32 49.5,400.0 48.98,403.67 48.58,407.1 48.24,410.58 47.9,414.45 47.5,419.0 47.05,424.3 46.58,430.15 46.1,436.45 45.57,443.1 45.0,450.0 44.36,457.58 43.65,465.89 42.91,474.31 42.18,482.22 41.5,489.0 40.94,493.74 40.48,496.87 40.0,499.73 39.38,503.66 38.5,510.0 37.24,519.98 35.68,532.69 34.0,546.31 32.38,559.02 31.0,569.0 30.01,574.72 29.3,577.4 28.62,579.32 27.77,582.76 26.5,590.0 24.54,603.2 22.04,620.84 19.42,639.68 17.1,656.48 15.5,668 8.57,667.04 10.17,655.52 12.49,638.72 15.11,619.87 17.61,602.2 19.59,588.91 20.9,581.4 21.89,577.4 22.6,575.38 23.15,573.33 24.08,567.96 25.44,558.1 27.05,545.44 28.73,531.84 30.29,519.12 31.56,509.09 32.45,502.65 33.09,498.61 33.56,495.78 34.0,492.84 34.54,488.25 35.21,481.55 35.94,473.68 36.68,465.29 37.39,456.99 38.02,449.42 38.59,442.53 39.12,435.91 39.6,429.6 40.07,423.72 40.53,418.4 40.93,413.84 41.27,409.94 41.62,406.35 42.04,402.77 42.58,398.93 43.23,395.08 43.93,391.46 44.7,387.75 45.59,383.59 46.66,378.52 47.87,373.01 49.19,367.4 50.62,361.02 52.24,353.09 54.1,342.83 56.46,328.15 59.32,309.53 62.24,290.07 64.8,272.86 66.58,260.96" fill="#fff" stroke="none"/>
<polygon points="73.5,262.0 71.72,273.89 69.16,291.1 66.24,310.58 63.38,329.23 61.0,344.0 59.12,354.4 57.47,362.48 56.01,368.96 54.7,374.56 53.5,380.0 52.44,385.04 51.55,389.2 50.79,392.84 50.12,396.32 49.5,400.0 48.98,403.67 48.58,407.1 48.24,410.58 47.9,414.45 47.5,419.0 47.05,424.3 46.58,430.15 46.1,436.45 45.57,443.1 45.0,450.0 44.36,457.58 43.65,465.89 42.91,474.31 42.18,482.22 41.5,489.0 40.94,493.74 40.48,496.87 40.0,499.73 39.38,503.66 38.5,510.0 37.24,519.98 35.68,532.69 34.0,546.31 32.38,559.02 31.0,569.0 30.01,574.72 29.3,577.4 28.62,579.32 27.77,582.76 26.5,590.0 24.54,603.2 22.04,620.84 19.42,639.68 17.1,656.48 15.5,668 8.57,667.04 10.17,655.52 12.49,638.72 15.11,619.87 17.61,602.2 19.59,588.91 20.9,581.4 21.89,577.4 22.6,575.38 23.15,573.33 24.08,567.96 25.44,558.1 27.05,545.44 28.73,531.84 30.29,519.12 31.56,509.09 32.45,502.65 33.09,498.61 33.56,495.78 34.0,492.84 34.54,488.25 35.21,481.55 35.94,473.68 36.68,465.29 37.39,456.99 38.02,449.42 38.59,442.53 39.12,435.91 39.6,429.6 40.07,423.72 40.53,418.4 40.93,413.84 41.27,409.94 41.62,406.35 42.04,402.77 42.58,398.93 43.23,395.08 43.93,391.46 44.7,387.75 45.59,383.59 46.66,378.52 47.87,373.01 49.19,367.4 50.62,361.02 52.24,353.09 54.1,342.83 56.46,328.15 59.32,309.53 62.24,290.07 64.8,272.86 66.58,260.96" fill="url(#h26)" stroke="#111" stroke-width="1.46" stroke-linejoin="round"/>
<polygon points="38.0,450.0 37.52,455.59 36.83,463.66 36.03,472.82 35.22,481.73 34.5,489.0 33.94,493.74 33.48,496.87 33.0,499.73 32.38,503.66 31.5,510.0 30.24,519.98 28.68,532.69 27.0,546.31 25.38,559.02 24.0,569.0 23.01,574.72 22.3,577.4 21.62,579.32 20.77,582.76 19.5,590.0 17.54,603.2 15.04,620.84 12.42,639.68 10.1,656.48 8.5,668 2.06,667.11 3.66,655.59 5.98,638.79 8.6,619.94 11.11,602.27 13.08,588.99 14.39,581.49 15.37,577.54 16.08,575.52 16.64,573.43 17.57,568.03 18.94,558.17 20.55,545.5 22.23,531.9 23.79,519.18 25.06,509.15 25.95,502.72 26.58,498.69 27.06,495.86 27.49,492.9 28.04,488.31 28.75,481.12 29.56,472.24 30.35,463.1 31.04,455.04 31.52,449.44" fill="#fff" stroke="none"/>
<polygon points="38.0,450.0 37.52,455.59 36.83,463.66 36.03,472.82 35.22,481.73 34.5,489.0 33.94,493.74 33.48,496.87 33.0,499.73 32.38,503.66 31.5,510.0 30.24,519.98 28.68,532.69 27.0,546.31 25.38,559.02 24.0,569.0 23.01,574.72 22.3,577.4 21.62,579.32 20.77,582.76 19.5,590.0 17.54,603.2 15.04,620.84 12.42,639.68 10.1,656.48 8.5,668 2.06,667.11 3.66,655.59 5.98,638.79 8.6,619.94 11.11,602.27 13.08,588.99 14.39,581.49 15.37,577.54 16.08,575.52 16.64,573.43 17.57,568.03 18.94,558.17 20.55,545.5 22.23,531.9 23.79,519.18 25.06,509.15 25.95,502.72 26.58,498.69 27.06,495.86 27.49,492.9 28.04,488.31 28.75,481.12 29.56,472.24 30.35,463.1 31.04,455.04 31.52,449.44" fill="url(#h25)" stroke="#111" stroke-width="1.46" stroke-linejoin="round"/>
<polygon points="205.0,222.0 204.08,225.79 202.75,230.98 201.23,237.26 199.74,244.37 198.5,252.0 197.52,260.75 196.65,270.82 195.87,281.3 195.16,291.33 194.5,300.0 193.95,307.02 193.54,312.97 193.14,318.31 192.67,323.5 192.0,329.0 191.11,334.53 190.06,339.78 188.92,345.18 187.71,351.11 186.5,358.0 185.3,366.06 184.09,375.03 182.83,384.57 181.48,394.34 180.0,404.0 178.33,413.59 176.5,423.34 174.59,433.18 172.73,443.09 171.0,453.0 169.37,463.32 167.78,474.08 166.28,484.68 164.92,494.52 163.75,503.0 162.86,509.66 162.22,514.89 161.7,519.39 161.17,523.86 160.5,529.0 159.68,534.98 158.79,541.33 157.86,547.79 156.92,554.1 156.0,560.0 155.18,564.58 154.44,568.03 153.66,571.69 152.72,576.9 151.5,585.0 149.77,598.0 147.6,615.0 145.36,633.0 143.37,649.0 142,660 148.45,660.8 149.82,649.8 151.81,633.8 154.05,615.81 156.22,598.84 157.94,585.9 159.14,577.94 160.04,572.93 160.8,569.39 161.56,565.82 162.41,561.06 163.35,555.08 164.29,548.73 165.23,542.24 166.12,535.87 166.94,529.86 167.62,524.67 168.16,520.15 168.67,515.66 169.31,510.49 170.19,503.88 171.36,495.41 172.72,485.58 174.21,475.01 175.8,464.3 177.41,454.06 179.13,444.25 180.97,434.4 182.88,424.56 184.73,414.75 186.41,405.05 187.91,395.28 189.27,385.44 190.53,375.89 191.74,366.97 192.92,359.03 194.1,352.32 195.28,346.5 196.43,341.09 197.51,335.68 198.44,329.91 199.13,324.19 199.62,318.85 200.02,313.44 200.43,307.5 200.98,300.5 201.64,291.8 202.35,281.77 203.13,271.34 203.99,261.39 204.94,252.87 206.13,245.55 207.57,238.69 209.06,232.55 210.39,227.37 211.32,223.53" fill="#fff" stroke="none"/>
<polygon points="205.0,222.0 204.08,225.79 202.75,230.98 201.23,237.26 199.74,244.37 198.5,252.0 197.52,260.75 196.65,270.82 195.87,281.3 195.16,291.33 194.5,300.0 193.95,307.02 193.54,312.97 193.14,318.31 192.67,323.5 192.0,329.0 191.11,334.53 190.06,339.78 188.92,345.18 187.71,351.11 186.5,358.0 185.3,366.06 184.09,375.03 182.83,384.57 181.48,394.34 180.0,404.0 178.33,413.59 176.5,423.34 174.59,433.18 172.73,443.09 171.0,453.0 169.37,463.32 167.78,474.08 166.28,484.68 164.92,494.52 163.75,503.0 162.86,509.66 162.22,514.89 161.7,519.39 161.17,523.86 160.5,529.0 159.68,534.98 158.79,541.33 157.86,547.79 156.92,554.1 156.0,560.0 155.18,564.58 154.44,568.03 153.66,571.69 152.72,576.9 151.5,585.0 149.77,598.0 147.6,615.0 145.36,633.0 143.37,649.0 142,660 148.45,660.8 149.82,649.8 151.81,633.8 154.05,615.81 156.22,598.84 157.94,585.9 159.14,577.94 160.04,572.93 160.8,569.39 161.56,565.82 162.41,561.06 163.35,555.08 164.29,548.73 165.23,542.24 166.12,535.87 166.94,529.86 167.62,524.67 168.16,520.15 168.67,515.66 169.31,510.49 170.19,503.88 171.36,495.41 172.72,485.58 174.21,475.01 175.8,464.3 177.41,454.06 179.13,444.25 180.97,434.4 182.88,424.56 184.73,414.75 186.41,405.05 187.91,395.28 189.27,385.44 190.53,375.89 191.74,366.97 192.92,359.03 194.1,352.32 195.28,346.5 196.43,341.09 197.51,335.68 198.44,329.91 199.13,324.19 199.62,318.85 200.02,313.44 200.43,307.5 200.98,300.5 201.64,291.8 202.35,281.77 203.13,271.34 203.99,261.39 204.94,252.87 206.13,245.55 207.57,238.69 209.06,232.55 210.39,227.37 211.32,223.53" fill="url(#h25)" stroke="#111" stroke-width="1.46" stroke-linejoin="round"/>
<polygon points="205.2,252.0 204.45,261.07 203.36,274.19 202.19,288.21 201.2,300.0 200.54,308.59 200.04,315.69 199.5,322.2 198.7,329.0 197.56,335.85 196.2,342.44 194.72,349.55 193.2,358.0 191.7,368.23 190.17,379.75 188.52,391.89 186.7,404.0 184.58,416.02 182.25,428.25 179.89,440.61 177.7,453.0 175.67,465.99 173.72,479.44 171.94,492.16 170.45,503.0 169.39,511.07 168.65,517.19 168.01,522.71 167.2,529.0 166.16,536.54 165.03,544.56 163.85,552.55 162.7,560.0 161.69,565.5 160.76,569.75 159.68,575.38 158.2,585.0 155.95,601.99 153.17,624.06 150.52,645.35 148.7,660 158,653 162,628 170,575 177,529 180.5,503 185,478 189.4,453 194,427 199,411 207,400 204,352 209,329 211.5,300 215.5,252" fill="#fff" stroke="none"/>
<polygon points="205.2,252.0 204.45,261.07 203.36,274.19 202.19,288.21 201.2,300.0 200.54,308.59 200.04,315.69 199.5,322.2 198.7,329.0 197.56,335.85 196.2,342.44 194.72,349.55 193.2,358.0 191.7,368.23 190.17,379.75 188.52,391.89 186.7,404.0 184.58,416.02 182.25,428.25 179.89,440.61 177.7,453.0 175.67,465.99 173.72,479.44 171.94,492.16 170.45,503.0 169.39,511.07 168.65,517.19 168.01,522.71 167.2,529.0 166.16,536.54 165.03,544.56 163.85,552.55 162.7,560.0 161.69,565.5 160.76,569.75 159.68,575.38 158.2,585.0 155.95,601.99 153.17,624.06 150.52,645.35 148.7,660 158,653 162,628 170,575 177,529 180.5,503 185,478 189.4,453 194,427 199,411 207,400 204,352 209,329 211.5,300 215.5,252" fill="url(#h27)" stroke="#111" stroke-width="1.83" stroke-linejoin="round"/>
<polygon points="33,580 38,576.5 146,577.5 150.5,581 149,587 36,586 32,588" fill="#fff" stroke="none"/>
<polygon points="33,580 38,576.5 146,577.5 150.5,581 149,587 36,586 32,588" fill="url(#h28)" stroke="#111" stroke-width="1.95" stroke-linejoin="round"/>
<rect x="38.5" y="590.8" width="100.5" height="4.6" rx="2.3" fill="#fff" stroke="#111" stroke-width="2"/>
<rect x="37.5" y="599.8" width="100.25" height="4.6" rx="2.3" fill="#fff" stroke="#111" stroke-width="2"/>
<rect x="36.5" y="609.3" width="100.0" height="4.6" rx="2.3" fill="#fff" stroke="#111" stroke-width="2"/>
<rect x="35.5" y="618.3" width="99.75" height="4.6" rx="2.3" fill="#fff" stroke="#111" stroke-width="2"/>
<rect x="34.5" y="627.8" width="99.5" height="4.6" rx="2.3" fill="#fff" stroke="#111" stroke-width="2"/>
<rect x="33.5" y="636.8" width="99.25" height="4.6" rx="2.3" fill="#fff" stroke="#111" stroke-width="2"/>
<rect x="32.5" y="646.3" width="99.0" height="4.6" rx="2.3" fill="#fff" stroke="#111" stroke-width="2"/>
<rect x="31.5" y="654.3" width="98.75" height="4.6" rx="2.3" fill="#fff" stroke="#111" stroke-width="2"/>
<rect x="30.5" y="661.8" width="98.5" height="4.6" rx="2.3" fill="#fff" stroke="#111" stroke-width="2"/>
<polygon points="146.0,588.0 145.12,594.51 143.88,603.81 142.44,614.46 141.0,625.0 139.43,636.34 137.69,648.81 136.1,660.13 135,668 129.55,667.24 130.65,659.37 132.24,648.05 133.98,635.58 135.55,624.25 136.99,613.72 138.43,603.08 139.67,593.78 140.55,587.26" fill="#fff" stroke="none"/>
<polygon points="146.0,588.0 145.12,594.51 143.88,603.81 142.44,614.46 141.0,625.0 139.43,636.34 137.69,648.81 136.1,660.13 135,668 129.55,667.24 130.65,659.37 132.24,648.05 133.98,635.58 135.55,624.25 136.99,613.72 138.43,603.08 139.67,593.78 140.55,587.26" fill="url(#h25)" stroke="#111" stroke-width="1.46" stroke-linejoin="round"/>
<polygon points="12,668 145,668 147,653 153,653 160,664 172,670 172,677 12,676" fill="#fff" stroke="none"/>
<polygon points="12,668 145,668 147,653 153,653 160,664 172,670 172,677 12,676" fill="url(#h28)" stroke="#111" stroke-width="2.07" stroke-linejoin="round"/>
<polygon points="15,590 31,590 21,668 12,668" fill="#fff" stroke="none"/>
<polygon points="15,590 31,590 21,668 12,668" fill="url(#h25)" stroke="#111" stroke-width="1.46" stroke-linejoin="round"/>
<path d="M0.00,285.00 C2.33,289.50 9.67,303.17 14.00,312.00 C18.33,320.83 23.17,328.00 26.00,338.00 C28.83,348.00 30.33,358.50 31.00,372.00 C31.67,385.50 30.17,411.17 30.00,419.00 " fill="none" stroke="#111" stroke-width="1.83" stroke-linejoin="round" stroke-linecap="butt"/>
<path d="M0.00,270.00 C2.67,273.67 10.83,283.33 16.00,292.00 C21.17,300.67 27.33,312.33 31.00,322.00 C34.67,331.67 36.50,339.50 38.00,350.00 C39.50,360.50 40.33,373.50 40.00,385.00 C39.67,396.50 36.67,413.33 36.00,419.00 " fill="none" stroke="#111" stroke-width="1.83" stroke-linejoin="round" stroke-linecap="butt"/>
<path d="M14.00,269.00 C16.67,274.17 25.67,289.83 30.00,300.00 C34.33,310.17 37.58,320.00 40.00,330.00 C42.42,340.00 43.67,350.83 44.50,360.00 C45.33,369.17 44.92,380.83 45.00,385.00 " fill="none" stroke="#111" stroke-width="1.83" stroke-linejoin="round" stroke-linecap="butt"/>
<path d="M21.00,267.00 C23.67,272.17 32.83,287.50 37.00,298.00 C41.17,308.50 43.83,320.50 46.00,330.00 C48.17,339.50 49.33,350.83 50.00,355.00 " fill="none" stroke="#111" stroke-width="1.83" stroke-linejoin="round" stroke-linecap="butt"/>
<line x1="0" y1="315" x2="57" y2="315" stroke="#111" stroke-width="1.83" stroke-linecap="butt"/>
<polygon points="47.0,360.0 46.07,367.42 44.72,378.12 43.26,389.77 42.0,400.0 41.0,408.32 40.09,415.94 39.27,423.09 38.5,430.0 37.75,437.19 37.03,444.38 36.43,450.62 36,455 28.04,454.22 28.47,449.85 29.07,443.6 29.79,436.38 30.55,429.14 31.32,422.19 32.14,415.01 33.06,407.37 34.06,399.03 35.32,388.78 36.78,377.12 38.13,366.42 39.06,359.01" fill="#fff" stroke="none"/>
<polygon points="47.0,360.0 46.07,367.42 44.72,378.12 43.26,389.77 42.0,400.0 41.0,408.32 40.09,415.94 39.27,423.09 38.5,430.0 37.75,437.19 37.03,444.38 36.43,450.62 36,455 28.04,454.22 28.47,449.85 29.07,443.6 29.79,436.38 30.55,429.14 31.32,422.19 32.14,415.01 33.06,407.37 34.06,399.03 35.32,388.78 36.78,377.12 38.13,366.42 39.06,359.01" fill="url(#h25)" stroke="#111" stroke-width="1.46" stroke-linejoin="round"/>
<polygon points="21,440 37.5,440 36,455 20,455" fill="#fff" stroke="#111" stroke-width="1.71" stroke-linejoin="round"/>
<polygon points="26.5,456.0 25.66,462.21 24.44,471.19 23.12,480.82 22.0,489.0 21.21,494.2 20.59,497.88 19.93,502.36 19.0,510.0 17.69,522.03 16.12,537.0 14.5,553.22 13.0,569.0 11.56,585.54 10.12,603.19 8.88,618.99 8,630 0.03,629.36 0.9,618.36 2.15,602.55 3.59,584.87 5.03,568.28 6.54,552.44 8.16,536.19 9.74,521.18 11.05,509.09 12.0,501.32 12.69,496.64 13.31,492.95 14.08,487.87 15.19,479.73 16.51,470.11 17.73,461.13 18.57,454.93" fill="#fff" stroke="none"/>
<polygon points="26.5,456.0 25.66,462.21 24.44,471.19 23.12,480.82 22.0,489.0 21.21,494.2 20.59,497.88 19.93,502.36 19.0,510.0 17.69,522.03 16.12,537.0 14.5,553.22 13.0,569.0 11.56,585.54 10.12,603.19 8.88,618.99 8,630 0.03,629.36 0.9,618.36 2.15,602.55 3.59,584.87 5.03,568.28 6.54,552.44 8.16,536.19 9.74,521.18 11.05,509.09 12.0,501.32 12.69,496.64 13.31,492.95 14.08,487.87 15.19,479.73 16.51,470.11 17.73,461.13 18.57,454.93" fill="url(#h25)" stroke="#111" stroke-width="1.46" stroke-linejoin="round"/>
<polygon points="0,318 10,318 16,344 14,352 0,352" fill="#fff" stroke="none"/>
<polygon points="0,318 10,318 16,344 14,352 0,352" fill="url(#h29)" stroke="#111" stroke-width="1.71" stroke-linejoin="round"/>
<polygon points="0,318 10,318 16,344 14,352 0,352" fill="url(#h30)" stroke="none"/>
<polygon points="0,455 17,458 16,476 0,476" fill="#fff" stroke="none"/>
<polygon points="0,455 17,458 16,476 0,476" fill="url(#h29)" stroke="#111" stroke-width="1.71" stroke-linejoin="round"/>
<polygon points="0,455 17,458 16,476 0,476" fill="url(#h30)" stroke="none"/>
<line x1="5" y1="349" x2="30" y2="349" stroke="#111" stroke-width="1.71" stroke-linecap="butt"/>
<line x1="0" y1="362" x2="37" y2="371" stroke="#111" stroke-width="1.59" stroke-linecap="butt"/>
<path d="M10,638 L9,672 Q8,684 0,686" fill="none" stroke="#111" stroke-width="1.95" stroke-linejoin="round" stroke-linecap="butt"/>
<path d="M0,560 Q6,600 8,640" fill="none" stroke="#111" stroke-width="1.59" stroke-linejoin="round" stroke-linecap="butt"/>
<polygon points="217,250 241,252 230,350 226,353 227,369 202,370 203.5,352" fill="#fff" stroke="#111" stroke-width="1.83" stroke-linejoin="round"/>
<ellipse cx="227.8" cy="258.0" rx="10.5" ry="2.5" fill="#fff" stroke="#111" stroke-width="2.81" transform="rotate(-6 227.8 258.0)"/>
<ellipse cx="226.84166666666667" cy="265.6666666666667" rx="10.5" ry="2.5" fill="#fff" stroke="#111" stroke-width="2.81" transform="rotate(-6 226.84166666666667 265.6666666666667)"/>
<ellipse cx="225.88333333333335" cy="273.3333333333333" rx="10.5" ry="2.5" fill="#fff" stroke="#111" stroke-width="2.81" transform="rotate(-6 225.88333333333335 273.3333333333333)"/>
<ellipse cx="224.925" cy="281.0" rx="10.5" ry="2.5" fill="#fff" stroke="#111" stroke-width="2.81" transform="rotate(-6 224.925 281.0)"/>
<ellipse cx="223.96666666666667" cy="288.6666666666667" rx="10.5" ry="2.5" fill="#fff" stroke="#111" stroke-width="2.81" transform="rotate(-6 223.96666666666667 288.6666666666667)"/>
<ellipse cx="223.00833333333335" cy="296.3333333333333" rx="10.5" ry="2.5" fill="#fff" stroke="#111" stroke-width="2.81" transform="rotate(-6 223.00833333333335 296.3333333333333)"/>
<ellipse cx="222.05" cy="304.0" rx="10.5" ry="2.5" fill="#fff" stroke="#111" stroke-width="2.81" transform="rotate(-6 222.05 304.0)"/>
<ellipse cx="221.09166666666667" cy="311.6666666666667" rx="10.5" ry="2.5" fill="#fff" stroke="#111" stroke-width="2.81" transform="rotate(-6 221.09166666666667 311.6666666666667)"/>
<ellipse cx="220.13333333333335" cy="319.3333333333333" rx="10.5" ry="2.5" fill="#fff" stroke="#111" stroke-width="2.81" transform="rotate(-6 220.13333333333335 319.3333333333333)"/>
<ellipse cx="219.175" cy="327.0" rx="10.5" ry="2.5" fill="#fff" stroke="#111" stroke-width="2.81" transform="rotate(-6 219.175 327.0)"/>
<ellipse cx="218.21666666666667" cy="334.6666666666667" rx="10.5" ry="2.5" fill="#fff" stroke="#111" stroke-width="2.81" transform="rotate(-6 218.21666666666667 334.6666666666667)"/>
<ellipse cx="217.25833333333335" cy="342.3333333333333" rx="10.5" ry="2.5" fill="#fff" stroke="#111" stroke-width="2.81" transform="rotate(-6 217.25833333333335 342.3333333333333)"/>
<ellipse cx="216.3" cy="350.0" rx="10.5" ry="2.5" fill="#fff" stroke="#111" stroke-width="2.81" transform="rotate(-6 216.3 350.0)"/>
<polygon points="201,354.5 226,353 227,368.5 202,370" fill="#fff" stroke="#111" stroke-width="1.95" stroke-linejoin="round"/>
<line x1="213" y1="352" x2="213.5" y2="362" stroke="#111" stroke-width="1.46" stroke-linecap="butt"/>
<polygon points="238,196 251,187.5 330,196 329,201 310,198.5 290,203 272.5,212.5 268,215 222,216.5 216,205 237.5,192.5" fill="#fff" stroke="none"/>
<polygon points="238,196 251,187.5 330,196 329,201 310,198.5 290,203 272.5,212.5 268,215 222,216.5 216,205 237.5,192.5" fill="url(#h31)" stroke="#111" stroke-width="1.83" stroke-linejoin="round"/>
<circle cx="247.5" cy="204.5" r="4.4" fill="#555" stroke="#111" stroke-width="4.15"/>
<line x1="240" y1="204.5" x2="255" y2="204.5" stroke="#111" stroke-width="1.34" stroke-linecap="butt"/>
<line x1="247.5" y1="197" x2="247.5" y2="212" stroke="#111" stroke-width="1.34" stroke-linecap="butt"/>
<polygon points="216,205 237.5,192.5 236,189 213,201" fill="#fff" stroke="#111" stroke-width="1.71" stroke-linejoin="round"/>
<polygon points="208,209 221,207 216,221 211,221" fill="#fff" stroke="none"/>
<polygon points="208,209 221,207 216,221 211,221" fill="url(#h32)" stroke="#111" stroke-width="1.71" stroke-linejoin="round"/>
<line x1="182.5" y1="186" x2="238" y2="186.5" stroke="#111" stroke-width="1.95" stroke-linecap="butt"/>
<line x1="182.5" y1="190" x2="222" y2="190" stroke="#111" stroke-width="1.46" stroke-linecap="butt"/>
<polygon points="0,243.8 160,228 268,216.5 272,237.5 160,252.8 0,271.5" fill="#fff" stroke="#111" stroke-width="2.2" stroke-linejoin="round"/>
<path d="M50,227 Q52,244 40,254 Q32,259 22,261" fill="none" stroke="#111" stroke-width="1.46" stroke-linejoin="round" stroke-linecap="butt" stroke-dasharray="7 4"/>
<polygon points="7,254 13,251 17,259 11,262" fill="none" stroke="#111" stroke-width="1.71" stroke-linejoin="round"/>
<circle cx="280" cy="226" r="11" fill="#fff" stroke="#111" stroke-width="2.07"/>
<line x1="262" y1="226" x2="310" y2="226" stroke="#111" stroke-width="1.34" stroke-linecap="butt" stroke-dasharray="10 4"/>
<circle cx="69.4" cy="221.3" r="9.5" fill="#fff" stroke="#111" stroke-width="1.95"/>
<circle cx="69.4" cy="221.3" r="6" fill="none" stroke="#111" stroke-width="1.71"/>
<circle cx="69.4" cy="221.3" r="2.8" fill="none" stroke="#111" stroke-width="1.59"/>
<line x1="69.4" y1="209" x2="69.4" y2="236" stroke="#111" stroke-width="1.22" stroke-linecap="butt"/>
<circle cx="54" cy="204" r="3.2" fill="#222" stroke="#111" stroke-width="1.46"/>
<line x1="54" y1="207" x2="54" y2="213" stroke="#111" stroke-width="1.46" stroke-linecap="butt"/>
<line x1="70" y1="192" x2="80" y2="219" stroke="#111" stroke-width="1.83" stroke-linecap="butt"/>
<line x1="74" y1="191" x2="84" y2="217" stroke="#111" stroke-width="1.83" stroke-linecap="butt"/>
<path d="M60,229 Q66,234 74,230" fill="none" stroke="#111" stroke-width="1.95" stroke-linejoin="round" stroke-linecap="butt"/>
<line x1="37.5" y1="209" x2="54" y2="224" stroke="#111" stroke-width="1.71" stroke-linecap="butt"/>
<path d="M41,212.5 L32.5,222.5 Q30.5,226 34,228 Q37,229.5 39.5,226.5 L48,217" fill="none" stroke="#111" stroke-width="1.95" stroke-linejoin="round" stroke-linecap="butt"/>
<path d="M0,193 Q14,193 22,203 Q28,213 25,224 Q22,234 16,241" fill="none" stroke="#111" stroke-width="2.44" stroke-linejoin="round" stroke-linecap="butt"/>
<path d="M21,199 Q27,192 38,194 Q36,200 29,203 Q24,204 24,208" fill="none" stroke="#111" stroke-width="1.95" stroke-linejoin="round" stroke-linecap="butt"/>
<path d="M30,205 L60,229" fill="none" stroke="#111" stroke-width="1.95" stroke-linejoin="round" stroke-linecap="butt"/>
<path d="M0,212 Q7,214 8,222 Q8,231 0,234" fill="none" stroke="#111" stroke-width="2.68" stroke-linejoin="round" stroke-linecap="butt"/>
<ellipse cx="1.5" cy="223" rx="4.5" ry="5.5" fill="#222" stroke="#111" stroke-width="1.22"/>
<path d="M12,208 Q9,216 12,224 Q15,231 11,238" fill="none" stroke="#111" stroke-width="1.95" stroke-linejoin="round" stroke-linecap="butt"/>
<path d="M17,210 Q13,218 16,226 Q18,232 15,238" fill="none" stroke="#111" stroke-width="1.71" stroke-linejoin="round" stroke-linecap="butt"/>
<path d="M20,214 Q18,222 20,230" fill="none" stroke="#111" stroke-width="1.59" stroke-linejoin="round" stroke-linecap="butt"/>
<path d="M10,240 Q14,244 12,250 M16,238 Q19,243 18,248" fill="none" stroke="#111" stroke-width="1.46" stroke-linejoin="round" stroke-linecap="butt"/>
<line x1="52" y1="223.6" x2="47.8" y2="236" stroke="#111" stroke-width="1.71" stroke-linecap="butt"/>
<line x1="0" y1="246" x2="12" y2="240" stroke="#111" stroke-width="1.59" stroke-linecap="butt" stroke-dasharray="5 3"/>
<path d="M3,250 L9,246 M14,262 L21,258" fill="none" stroke="#111" stroke-width="1.59" stroke-linejoin="round" stroke-linecap="butt"/>
<g transform="translate(85,30) skewX(-14) scale(1.023,1.023)" fill="none" stroke="#111" stroke-width="2.54" stroke-linecap="round" stroke-linejoin="round"><path transform="translate(0,0)" d="M0.5,4.5 L5,0.3 L5,22"/><path transform="translate(8.5,0)" d="M8.5,0 L8.5,22 M8.5,0 L0,14.3 L11,14.3"/></g>
<g transform="translate(187,31) skewX(-14) scale(1.068,1.068)" fill="none" stroke="#111" stroke-width="2.43" stroke-linecap="round" stroke-linejoin="round"><path transform="translate(0,0)" d="M0.5,4.5 L5,0.3 L5,22"/><path transform="translate(8.5,0)" d="M0.5,0.6 L10,0.6 L4.8,9 Q10.5,9 10.5,15 Q10.5,22 5,22 Q1.5,22 0,18.5"/></g>
<g transform="translate(308.5,32.5) skewX(-14) scale(1.023,1.023)" fill="none" stroke="#111" stroke-width="2.35" stroke-linecap="round" stroke-linejoin="round"><path transform="translate(0,0)" d="M0.5,0.6 L10,0.6 L4.8,9 Q10.5,9 10.5,15 Q10.5,22 5,22 Q1.5,22 0,18.5"/></g>
<g transform="translate(377,33) skewX(-14) scale(0.993,1.045)" fill="none" stroke="#111" stroke-width="2.10" stroke-linecap="round" stroke-linejoin="round"><path transform="translate(0,0)" d="M0.5,4.5 L5,0.3 L5,22"/><path transform="translate(9.5,0)" d="M5,0 Q9.5,0 9.5,11 Q9.5,22 5,22 Q0.5,22 0.5,11 Q0.5,0 5,0 Z"/></g>
<g transform="translate(549,37) skewX(-14) scale(0.955,0.955)" fill="none" stroke="#111" stroke-width="2.30" stroke-linecap="round" stroke-linejoin="round"><path transform="translate(0,0)" d="M0.5,4.5 L5,0.3 L5,22"/><path transform="translate(10.5,0)" d="M0.5,4.5 L5,0.3 L5,22"/></g>
<g transform="translate(636,36.5) skewX(-14) scale(0.977,0.977)" fill="none" stroke="#111" stroke-width="2.35" stroke-linecap="round" stroke-linejoin="round"><path transform="translate(0,0)" d="M0.6,3.2 L0.6,0.6 L10,0.6 L3.2,22"/></g>
<g transform="translate(887.5,39) skewX(-14) scale(0.955,0.955)" fill="none" stroke="#111" stroke-width="2.20" stroke-linecap="round" stroke-linejoin="round"><path transform="translate(0,0)" d="M5.2,10.5 Q1.5,10 1.5,5.2 Q1.5,0 5.2,0 Q9,0 9,5.2 Q9,10 5.2,10.5 Q0.5,11.5 0.5,16.5 Q0.5,22 5.2,22 Q10,22 10,16.5 Q10,11.5 5.2,10.5 Z"/></g>
<g transform="translate(322,447.5) skewX(-14) scale(1.114,1.114)" fill="none" stroke="#111" stroke-width="3.68" stroke-linecap="round" stroke-linejoin="round"><path transform="translate(0,0)" d="M0.5,4.5 L5,0.3 L5,22"/><path transform="translate(11.5,0)" d="M1,5.2 Q1.5,0 5.5,0 Q10,0 10,5.2 Q10,9 6,13.5 L0.5,21.3 L10.8,21.3"/></g>
<g transform="translate(223,432.5) skewX(-14) scale(1.068,1.068)" fill="none" stroke="#111" stroke-width="3.46" stroke-linecap="round" stroke-linejoin="round"><path transform="translate(0,0)" d="M0.5,4.5 L5,0.3 L5,22"/></g>
<g transform="translate(207,525) skewX(-14) scale(1.091,1.091)" fill="none" stroke="#111" stroke-width="2.48" stroke-linecap="round" stroke-linejoin="round"><path transform="translate(0,0)" d="M0.5,4.5 L5,0.3 L5,22"/><path transform="translate(10.5,0)" d="M9.8,0.6 L2.6,0.6 L1.6,9.6 Q3.6,7.6 6,7.8 Q10.5,8.5 10.5,14.8 Q10.5,22 5,22 Q1.5,22 0,18.5"/></g>
<line x1="89" y1="62" x2="60" y2="204" stroke="#111" stroke-width="1.71" stroke-linecap="butt"/>
<line x1="191" y1="62" x2="143" y2="245" stroke="#111" stroke-width="1.71" stroke-linecap="butt"/>
<line x1="311" y1="60" x2="298.75" y2="106" stroke="#111" stroke-width="1.46" stroke-linecap="butt" stroke-dasharray="30 4"/>
<line x1="381" y1="65" x2="371" y2="97.5" stroke="#111" stroke-width="1.46" stroke-linecap="butt" stroke-dasharray="14 3"/>
<line x1="555" y1="66" x2="535" y2="130" stroke="#111" stroke-width="1.59" stroke-linecap="butt"/>
<line x1="639.4" y1="70" x2="637.5" y2="127.5" stroke="#111" stroke-width="1.46" stroke-linecap="butt" stroke-dasharray="20 3"/>
<line x1="892.5" y1="71" x2="891" y2="79" stroke="#111" stroke-width="1.46" stroke-linecap="butt"/>
<line x1="356" y1="352.5" x2="331" y2="440" stroke="#111" stroke-width="1.83" stroke-linecap="butt"/>
<line x1="194" y1="427.5" x2="215" y2="442.5" stroke="#111" stroke-width="1.83" stroke-linecap="butt"/>
<line x1="150" y1="529" x2="197.5" y2="534" stroke="#111" stroke-width="1.83" stroke-linecap="butt"/>
<path d="M260,507 Q270,497 282,508" fill="none" stroke="#111" stroke-width="3.17" stroke-linejoin="round" stroke-linecap="butt"/>
<path d="M262,506 Q270,500 280,506" fill="none" stroke="#111" stroke-width="1.83" stroke-linejoin="round" stroke-linecap="butt"/>
<circle cx="305" cy="597" r="1.2" fill="#333" stroke="#111" stroke-width="0.0"/>
<circle cx="282" cy="610" r="1" fill="#333" stroke="#111" stroke-width="0.0"/>
<circle cx="251" cy="638" r="1.2" fill="#333" stroke="#111" stroke-width="0.0"/>
<circle cx="314" cy="516" r="1.3" fill="#333" stroke="#111" stroke-width="0.0"/>
<circle cx="317" cy="522" r="1" fill="#333" stroke="#111" stroke-width="0.0"/>
<circle cx="328" cy="456" r="0.9" fill="#333" stroke="#111" stroke-width="0.0"/>
<circle cx="374" cy="498" r="0.9" fill="#333" stroke="#111" stroke-width="0.0"/>
<circle cx="466" cy="582" r="1" fill="#333" stroke="#111" stroke-width="0.0"/>
<circle cx="1143" cy="69" r="1" fill="#333" stroke="#111" stroke-width="0.0"/>
<circle cx="1056" cy="145" r="1.2" fill="#333" stroke="#111" stroke-width="0.0"/>
<circle cx="1245" cy="139" r="0.8" fill="#333" stroke="#111" stroke-width="0.0"/>
<circle cx="364" cy="566" r="0.9" fill="#333" stroke="#111" stroke-width="0.0"/>
<circle cx="328" cy="604" r="0.8" fill="#333" stroke="#111" stroke-width="0.0"/>
<circle cx="270" cy="612" r="0.8" fill="#333" stroke="#111" stroke-width="0.0"/>
</g>
</svg>
</body></html>
